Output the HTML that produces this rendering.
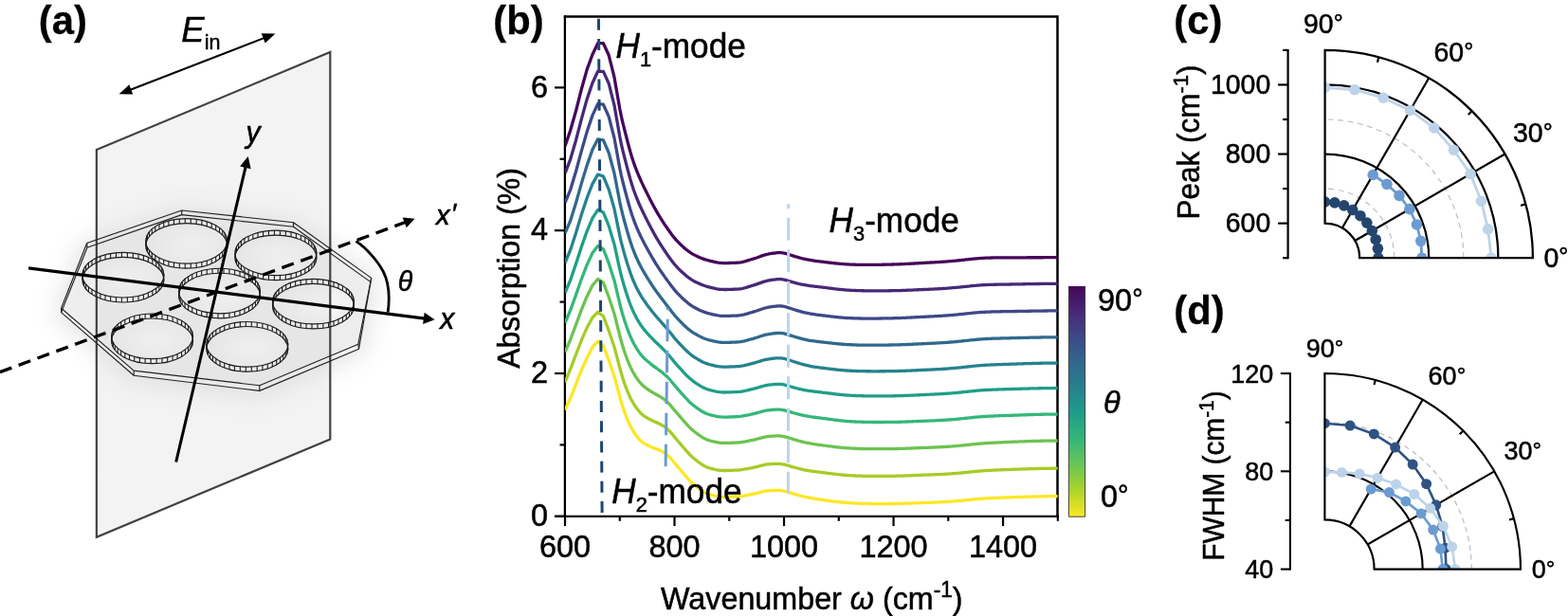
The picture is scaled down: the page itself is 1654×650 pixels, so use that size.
<!DOCTYPE html>
<html lang="en"><head><meta charset="utf-8"><title>Figure</title>
<style>html,body{margin:0;padding:0;background:#fff;}body{width:1654px;height:650px;overflow:hidden;}svg{display:block;font-family:'Liberation Sans', sans-serif;}text{stroke:#000;stroke-width:0.5px;paint-order:stroke;}</style>
</head><body>
<svg width="1654" height="650" viewBox="0 0 1654 650">
<defs>
<linearGradient id="vir" x1="0" y1="1" x2="0" y2="0">
<stop offset="0.0000" stop-color="#fde725"/>
<stop offset="0.1111" stop-color="#aed52a"/>
<stop offset="0.2222" stop-color="#6cc654"/>
<stop offset="0.3333" stop-color="#35b779"/>
<stop offset="0.4444" stop-color="#1f9e89"/>
<stop offset="0.5556" stop-color="#26828e"/>
<stop offset="0.6667" stop-color="#31688e"/>
<stop offset="0.7778" stop-color="#3e4989"/>
<stop offset="0.8889" stop-color="#482878"/>
<stop offset="1.0000" stop-color="#450659"/>
</linearGradient>
<clipPath id="clipb"><rect x="596.00" y="17.30" width="519.80" height="527.30"/></clipPath>
<filter id="blur1" x="-30%" y="-30%" width="160%" height="160%"><feGaussianBlur stdDeviation="13"/></filter>
<radialGradient id="ringg" cx="0.55" cy="0.55" r="0.5"><stop offset="0" stop-color="#fff" stop-opacity="0.65"/><stop offset="0.5" stop-color="#fff" stop-opacity="0.4"/><stop offset="1" stop-color="#fff" stop-opacity="0"/></radialGradient>
</defs>
<rect width="1654" height="650" fill="#fff"/>
<g id="panel-a">
<polygon points="191.70,226.60 309.50,239.30 391.00,297.60 378.50,368.20 273.80,412.40 141.20,396.30 64.60,329.60 92.00,261.20" fill="#8c8c8c" opacity="0.24" filter="url(#blur1)" stroke="#8c8c8c" stroke-width="13" stroke-linejoin="round"/>
<polygon points="191.70,226.60 309.50,239.30 391.00,297.60 378.50,368.20 273.80,412.40 141.20,396.30 64.60,329.60 92.00,261.20" fill="#f4f4f4" fill-opacity="0.8" stroke="none"/>
<polygon points="191.70,222.00 309.50,234.70 391.70,293.40 377.80,363.20 273.80,406.80 141.20,391.10 64.60,325.20 91.70,256.50" fill="#ececec" fill-opacity="0.8" stroke="none"/>
<ellipse cx="196.75" cy="256.85" rx="42.00" ry="24.80" fill="url(#ringg)"/>
<ellipse cx="290.90" cy="269.40" rx="42.00" ry="24.80" fill="url(#ringg)"/>
<ellipse cx="129.90" cy="292.70" rx="42.00" ry="24.80" fill="url(#ringg)"/>
<ellipse cx="231.50" cy="309.50" rx="42.00" ry="24.80" fill="url(#ringg)"/>
<ellipse cx="330.50" cy="320.60" rx="42.00" ry="24.80" fill="url(#ringg)"/>
<ellipse cx="160.60" cy="357.30" rx="42.00" ry="24.80" fill="url(#ringg)"/>
<ellipse cx="260.80" cy="365.80" rx="42.00" ry="24.80" fill="url(#ringg)"/>
<polygon points="101.85,158 348.3,55 348.3,463.4 101.85,566.8" fill="#d8d8d8" fill-opacity="0.3" stroke="none"/>
<polygon points="101.85,158 348.3,55 348.3,463.4 101.85,566.8" fill="none" stroke="#424242" stroke-width="2.2" stroke-linejoin="miter"/>
<g fill="none" stroke="#222" stroke-width="1.15" stroke-linejoin="round">
<polygon points="191.70,222.00 309.50,234.70 391.70,293.40 377.80,363.20 273.80,406.80 141.20,391.10 64.60,325.20 91.70,256.50"/>
<polygon points="191.70,226.60 309.50,239.30 391.00,297.60 378.50,368.20 273.80,412.40 141.20,396.30 64.60,329.60 92.00,261.20"/>
<line x1="191.70" y1="222.00" x2="191.70" y2="226.60"/>
<line x1="309.50" y1="234.70" x2="309.50" y2="239.30"/>
<line x1="391.70" y1="293.40" x2="391.00" y2="297.60"/>
<line x1="377.80" y1="363.20" x2="378.50" y2="368.20"/>
<line x1="273.80" y1="406.80" x2="273.80" y2="412.40"/>
<line x1="141.20" y1="391.10" x2="141.20" y2="396.30"/>
<line x1="64.60" y1="325.20" x2="64.60" y2="329.60"/>
<line x1="91.70" y1="256.50" x2="92.00" y2="261.20"/>
</g>
<g fill="none" stroke="#1c1c1c" stroke-width="1.15">
<ellipse cx="196.75" cy="256.85" rx="43.00" ry="23.80" stroke="#fff" stroke-opacity="0.2" stroke-width="5.00"/>
<ellipse cx="196.75" cy="254.35" rx="43.00" ry="23.80"/>
<ellipse cx="196.75" cy="259.35" rx="43.00" ry="23.80"/>
<path d="M239.65,256.01 V261.01 M238.81,259.30 V264.30 M237.16,262.49 V267.49 M234.72,265.52 V270.52 M231.54,268.34 V273.34 M227.68,270.88 V275.88 M223.22,273.10 V278.10 M218.25,274.96 V279.96 M212.86,276.42 V281.42 M207.15,277.44 V282.44 M201.24,278.02 V283.02 M195.25,278.14 V283.14 M189.28,277.79 V282.79 M183.46,276.99 V281.99 M177.90,275.74 V280.74 M172.70,274.08 V279.08 M167.98,272.04 V277.04 M163.81,269.65 V274.65 M160.28,266.96 V271.96 M157.47,264.03 V269.03 M155.42,260.91 V265.91 M154.17,257.66 V262.66 M153.75,254.35 V259.35 M154.17,251.04 V256.04 M155.42,247.79 V252.79 M157.47,244.67 V249.67 M160.28,241.74 V246.74 M163.81,239.05 V244.05 M167.98,236.66 V241.66 M172.70,234.62 V239.62 M177.90,232.96 V237.96 M183.46,231.71 V236.71 M189.28,230.91 V235.91 M195.25,230.56 V235.56 M201.24,230.68 V235.68 M207.15,231.26 V236.26 M212.86,232.28 V237.28 M218.25,233.74 V238.74 M223.22,235.60 V240.60 M227.68,237.82 V242.82 M231.54,240.36 V245.36 M234.72,243.18 V248.18 M237.16,246.21 V251.21 M238.81,249.40 V254.40 M239.65,252.69 V257.69" stroke-width="1.1"/>
<ellipse cx="290.90" cy="269.40" rx="43.00" ry="23.80" stroke="#fff" stroke-opacity="0.2" stroke-width="5.00"/>
<ellipse cx="290.90" cy="266.90" rx="43.00" ry="23.80"/>
<ellipse cx="290.90" cy="271.90" rx="43.00" ry="23.80"/>
<path d="M333.80,268.56 V273.56 M332.96,271.85 V276.85 M331.31,275.04 V280.04 M328.87,278.07 V283.07 M325.69,280.89 V285.89 M321.83,283.43 V288.43 M317.37,285.65 V290.65 M312.40,287.51 V292.51 M307.01,288.97 V293.97 M301.30,289.99 V294.99 M295.39,290.57 V295.57 M289.40,290.69 V295.69 M283.43,290.34 V295.34 M277.61,289.54 V294.54 M272.05,288.29 V293.29 M266.85,286.63 V291.63 M262.13,284.59 V289.59 M257.96,282.20 V287.20 M254.43,279.51 V284.51 M251.62,276.58 V281.58 M249.57,273.46 V278.46 M248.32,270.21 V275.21 M247.90,266.90 V271.90 M248.32,263.59 V268.59 M249.57,260.34 V265.34 M251.62,257.22 V262.22 M254.43,254.29 V259.29 M257.96,251.60 V256.60 M262.13,249.21 V254.21 M266.85,247.17 V252.17 M272.05,245.51 V250.51 M277.61,244.26 V249.26 M283.43,243.46 V248.46 M289.40,243.11 V248.11 M295.39,243.23 V248.23 M301.30,243.81 V248.81 M307.01,244.83 V249.83 M312.40,246.29 V251.29 M317.37,248.15 V253.15 M321.83,250.37 V255.37 M325.69,252.91 V257.91 M328.87,255.73 V260.73 M331.31,258.76 V263.76 M332.96,261.95 V266.95 M333.80,265.24 V270.24" stroke-width="1.1"/>
<ellipse cx="129.90" cy="292.70" rx="43.00" ry="23.80" stroke="#fff" stroke-opacity="0.2" stroke-width="5.00"/>
<ellipse cx="129.90" cy="290.20" rx="43.00" ry="23.80"/>
<ellipse cx="129.90" cy="295.20" rx="43.00" ry="23.80"/>
<path d="M172.80,291.86 V296.86 M171.96,295.15 V300.15 M170.31,298.34 V303.34 M167.87,301.37 V306.37 M164.69,304.19 V309.19 M160.83,306.73 V311.73 M156.37,308.95 V313.95 M151.40,310.81 V315.81 M146.01,312.27 V317.27 M140.30,313.29 V318.29 M134.39,313.87 V318.87 M128.40,313.99 V318.99 M122.43,313.64 V318.64 M116.61,312.84 V317.84 M111.05,311.59 V316.59 M105.85,309.93 V314.93 M101.13,307.89 V312.89 M96.96,305.50 V310.50 M93.43,302.81 V307.81 M90.62,299.88 V304.88 M88.57,296.76 V301.76 M87.32,293.51 V298.51 M86.90,290.20 V295.20 M87.32,286.89 V291.89 M88.57,283.64 V288.64 M90.62,280.52 V285.52 M93.43,277.59 V282.59 M96.96,274.90 V279.90 M101.13,272.51 V277.51 M105.85,270.47 V275.47 M111.05,268.81 V273.81 M116.61,267.56 V272.56 M122.43,266.76 V271.76 M128.40,266.41 V271.41 M134.39,266.53 V271.53 M140.30,267.11 V272.11 M146.01,268.13 V273.13 M151.40,269.59 V274.59 M156.37,271.45 V276.45 M160.83,273.67 V278.67 M164.69,276.21 V281.21 M167.87,279.03 V284.03 M170.31,282.06 V287.06 M171.96,285.25 V290.25 M172.80,288.54 V293.54" stroke-width="1.1"/>
<ellipse cx="231.50" cy="309.50" rx="43.00" ry="23.80" stroke="#fff" stroke-opacity="0.2" stroke-width="5.00"/>
<ellipse cx="231.50" cy="307.00" rx="43.00" ry="23.80"/>
<ellipse cx="231.50" cy="312.00" rx="43.00" ry="23.80"/>
<path d="M274.40,308.66 V313.66 M273.56,311.95 V316.95 M271.91,315.14 V320.14 M269.47,318.17 V323.17 M266.29,320.99 V325.99 M262.43,323.53 V328.53 M257.97,325.75 V330.75 M253.00,327.61 V332.61 M247.61,329.07 V334.07 M241.90,330.09 V335.09 M235.99,330.67 V335.67 M230.00,330.79 V335.79 M224.03,330.44 V335.44 M218.21,329.64 V334.64 M212.65,328.39 V333.39 M207.45,326.73 V331.73 M202.73,324.69 V329.69 M198.56,322.30 V327.30 M195.03,319.61 V324.61 M192.22,316.68 V321.68 M190.17,313.56 V318.56 M188.92,310.31 V315.31 M188.50,307.00 V312.00 M188.92,303.69 V308.69 M190.17,300.44 V305.44 M192.22,297.32 V302.32 M195.03,294.39 V299.39 M198.56,291.70 V296.70 M202.73,289.31 V294.31 M207.45,287.27 V292.27 M212.65,285.61 V290.61 M218.21,284.36 V289.36 M224.03,283.56 V288.56 M230.00,283.21 V288.21 M235.99,283.33 V288.33 M241.90,283.91 V288.91 M247.61,284.93 V289.93 M253.00,286.39 V291.39 M257.97,288.25 V293.25 M262.43,290.47 V295.47 M266.29,293.01 V298.01 M269.47,295.83 V300.83 M271.91,298.86 V303.86 M273.56,302.05 V307.05 M274.40,305.34 V310.34" stroke-width="1.1"/>
<ellipse cx="330.50" cy="320.60" rx="43.00" ry="23.80" stroke="#fff" stroke-opacity="0.2" stroke-width="5.00"/>
<ellipse cx="330.50" cy="318.10" rx="43.00" ry="23.80"/>
<ellipse cx="330.50" cy="323.10" rx="43.00" ry="23.80"/>
<path d="M373.40,319.76 V324.76 M372.56,323.05 V328.05 M370.91,326.24 V331.24 M368.47,329.27 V334.27 M365.29,332.09 V337.09 M361.43,334.63 V339.63 M356.97,336.85 V341.85 M352.00,338.71 V343.71 M346.61,340.17 V345.17 M340.90,341.19 V346.19 M334.99,341.77 V346.77 M329.00,341.89 V346.89 M323.03,341.54 V346.54 M317.21,340.74 V345.74 M311.65,339.49 V344.49 M306.45,337.83 V342.83 M301.73,335.79 V340.79 M297.56,333.40 V338.40 M294.03,330.71 V335.71 M291.22,327.78 V332.78 M289.17,324.66 V329.66 M287.92,321.41 V326.41 M287.50,318.10 V323.10 M287.92,314.79 V319.79 M289.17,311.54 V316.54 M291.22,308.42 V313.42 M294.03,305.49 V310.49 M297.56,302.80 V307.80 M301.73,300.41 V305.41 M306.45,298.37 V303.37 M311.65,296.71 V301.71 M317.21,295.46 V300.46 M323.03,294.66 V299.66 M329.00,294.31 V299.31 M334.99,294.43 V299.43 M340.90,295.01 V300.01 M346.61,296.03 V301.03 M352.00,297.49 V302.49 M356.97,299.35 V304.35 M361.43,301.57 V306.57 M365.29,304.11 V309.11 M368.47,306.93 V311.93 M370.91,309.96 V314.96 M372.56,313.15 V318.15 M373.40,316.44 V321.44" stroke-width="1.1"/>
<ellipse cx="160.60" cy="357.30" rx="43.00" ry="23.80" stroke="#fff" stroke-opacity="0.2" stroke-width="5.00"/>
<ellipse cx="160.60" cy="354.80" rx="43.00" ry="23.80"/>
<ellipse cx="160.60" cy="359.80" rx="43.00" ry="23.80"/>
<path d="M203.50,356.46 V361.46 M202.66,359.75 V364.75 M201.01,362.94 V367.94 M198.57,365.97 V370.97 M195.39,368.79 V373.79 M191.53,371.33 V376.33 M187.07,373.55 V378.55 M182.10,375.41 V380.41 M176.71,376.87 V381.87 M171.00,377.89 V382.89 M165.09,378.47 V383.47 M159.10,378.59 V383.59 M153.13,378.24 V383.24 M147.31,377.44 V382.44 M141.75,376.19 V381.19 M136.55,374.53 V379.53 M131.83,372.49 V377.49 M127.66,370.10 V375.10 M124.13,367.41 V372.41 M121.32,364.48 V369.48 M119.27,361.36 V366.36 M118.02,358.11 V363.11 M117.60,354.80 V359.80 M118.02,351.49 V356.49 M119.27,348.24 V353.24 M121.32,345.12 V350.12 M124.13,342.19 V347.19 M127.66,339.50 V344.50 M131.83,337.11 V342.11 M136.55,335.07 V340.07 M141.75,333.41 V338.41 M147.31,332.16 V337.16 M153.13,331.36 V336.36 M159.10,331.01 V336.01 M165.09,331.13 V336.13 M171.00,331.71 V336.71 M176.71,332.73 V337.73 M182.10,334.19 V339.19 M187.07,336.05 V341.05 M191.53,338.27 V343.27 M195.39,340.81 V345.81 M198.57,343.63 V348.63 M201.01,346.66 V351.66 M202.66,349.85 V354.85 M203.50,353.14 V358.14" stroke-width="1.1"/>
<ellipse cx="260.80" cy="365.80" rx="43.00" ry="23.80" stroke="#fff" stroke-opacity="0.2" stroke-width="5.00"/>
<ellipse cx="260.80" cy="363.30" rx="43.00" ry="23.80"/>
<ellipse cx="260.80" cy="368.30" rx="43.00" ry="23.80"/>
<path d="M303.70,364.96 V369.96 M302.86,368.25 V373.25 M301.21,371.44 V376.44 M298.77,374.47 V379.47 M295.59,377.29 V382.29 M291.73,379.83 V384.83 M287.27,382.05 V387.05 M282.30,383.91 V388.91 M276.91,385.37 V390.37 M271.20,386.39 V391.39 M265.29,386.97 V391.97 M259.30,387.09 V392.09 M253.33,386.74 V391.74 M247.51,385.94 V390.94 M241.95,384.69 V389.69 M236.75,383.03 V388.03 M232.03,380.99 V385.99 M227.86,378.60 V383.60 M224.33,375.91 V380.91 M221.52,372.98 V377.98 M219.47,369.86 V374.86 M218.22,366.61 V371.61 M217.80,363.30 V368.30 M218.22,359.99 V364.99 M219.47,356.74 V361.74 M221.52,353.62 V358.62 M224.33,350.69 V355.69 M227.86,348.00 V353.00 M232.03,345.61 V350.61 M236.75,343.57 V348.57 M241.95,341.91 V346.91 M247.51,340.66 V345.66 M253.33,339.86 V344.86 M259.30,339.51 V344.51 M265.29,339.63 V344.63 M271.20,340.21 V345.21 M276.91,341.23 V346.23 M282.30,342.69 V347.69 M287.27,344.55 V349.55 M291.73,346.77 V351.77 M295.59,349.31 V354.31 M298.77,352.13 V357.13 M301.21,355.16 V360.16 M302.86,358.35 V363.35 M303.70,361.64 V366.64" stroke-width="1.1"/>
</g>
<g fill="none">
<line x1="30.00" y1="282.81" x2="448.38" y2="336.03" stroke="#000" stroke-width="3.25" />
<polygon points="458.60,337.33 446.12,341.89 447.66,329.79" fill="#000" stroke="none"/>
<line x1="185.69" y1="487.50" x2="259.25" y2="175.41" stroke="#000" stroke-width="3.05" />
<polygon points="261.71,165.00 264.65,178.23 253.16,175.52" fill="#000" stroke="none"/>
<line x1="-4.00" y1="394.09" x2="428.12" y2="234.30" stroke="#000" stroke-width="3.35" stroke-dasharray="13.3 7.85" stroke-dashoffset="17.1"/>
<polygon points="437.50,230.83 428.73,240.26 424.70,229.38" fill="#000" stroke="none"/>
<path d="M375.4,254.6 C386,261 399,276 404.5,287 C409.5,297 411.5,312 409.2,329.6" stroke="#000" stroke-width="2.8"/>
<line x1="136.88" y1="94.93" x2="279.12" y2="39.87" stroke="#000" stroke-width="2.10" />
<polygon points="290.40,35.50 279.67,45.45 275.77,35.37" fill="#000" stroke="none"/>
<polygon points="125.60,99.30 136.33,89.35 140.23,99.43" fill="#000" stroke="none"/>
</g>
<text transform="translate(40.8,35.6) scale(1,1.025)" font-size="41.8" font-weight="bold" style="stroke-width:0.25px">(a)</text>
<text transform="translate(191.3,43.5) scale(1,1.025)" font-size="36.5"><tspan font-style="italic">E</tspan><tspan font-size="21.5" dy="8.2">in</tspan></text>
<text transform="translate(259.5,149.5) scale(1,1.025)" font-size="30" font-style="italic" style="stroke-width:0.6px">y</text>
<text transform="translate(460,236.9) scale(1,1.025)" font-size="29" font-style="italic" style="stroke-width:0.6px">x<tspan dx="1.3" dy="-2">′</tspan></text>
<text transform="translate(464.3,346.7) scale(1,1.025)" font-size="30" font-style="italic" style="stroke-width:0.6px">x</text>
<text transform="translate(419.8,307) scale(1,1.025)" font-size="28.5" font-style="italic" style="stroke-width:0.55px">θ</text>
</g>
<g id="panel-b">
<g stroke="#000" stroke-width="2.3" fill="none" stroke-linecap="butt">
<path d="M595.90,545.80 L595.90,16.30"/>
<path d="M594.80,17.55 L1115.50,17.55 L1115.50,545.80" stroke-width="2.5" stroke-linejoin="miter"/>
<path d="M585.00,544.80 L1116.70,544.80"/>
<line x1="596.00" y1="544.60" x2="596.00" y2="555.10" stroke-width="2.2"/>
<line x1="653.76" y1="544.60" x2="653.76" y2="549.80" stroke-width="2.2"/>
<line x1="711.51" y1="544.60" x2="711.51" y2="555.10" stroke-width="2.2"/>
<line x1="769.27" y1="544.60" x2="769.27" y2="549.80" stroke-width="2.2"/>
<line x1="827.02" y1="544.60" x2="827.02" y2="555.10" stroke-width="2.2"/>
<line x1="884.78" y1="544.60" x2="884.78" y2="549.80" stroke-width="2.2"/>
<line x1="942.53" y1="544.60" x2="942.53" y2="555.10" stroke-width="2.2"/>
<line x1="1000.29" y1="544.60" x2="1000.29" y2="549.80" stroke-width="2.2"/>
<line x1="1058.04" y1="544.60" x2="1058.04" y2="555.10" stroke-width="2.2"/>
<line x1="1115.80" y1="544.60" x2="1115.80" y2="549.80" stroke-width="2.2"/>
<line x1="585.00" y1="544.80" x2="596.00" y2="544.80" stroke-width="2.2"/>
<line x1="590.50" y1="469.40" x2="596.00" y2="469.40" stroke-width="2.2"/>
<line x1="585.00" y1="394.00" x2="596.00" y2="394.00" stroke-width="2.2"/>
<line x1="590.50" y1="318.60" x2="596.00" y2="318.60" stroke-width="2.2"/>
<line x1="585.00" y1="243.20" x2="596.00" y2="243.20" stroke-width="2.2"/>
<line x1="590.50" y1="167.80" x2="596.00" y2="167.80" stroke-width="2.2"/>
<line x1="585.00" y1="92.40" x2="596.00" y2="92.40" stroke-width="2.2"/>
</g>
<g fill="none" stroke-width="3.3" stroke-linejoin="round" stroke-linecap="butt" clip-path="url(#clipb)" transform="translate(0,0.3)">
<path d="M596.00,432.50 L601.78,419.75 L607.55,405.00 L613.33,390.37 L619.10,377.33 L624.88,366.08 L630.65,360.00 L636.43,364.50 L642.20,380.00 L647.98,396.66 L653.76,418.25 L655.20,423.39 L656.64,428.16 L658.09,432.59 L659.53,436.68 L660.98,440.44 L662.42,443.88 L663.86,447.03 L665.31,449.91 L666.75,452.53 L668.19,454.92 L669.64,457.12 L671.08,459.15 L672.53,461.04 L673.97,462.77 L675.41,464.33 L676.86,465.68 L678.30,466.82 L679.75,467.78 L681.19,468.62 L682.63,469.37 L684.08,470.09 L685.52,470.77 L686.97,471.41 L688.41,472.00 L689.85,472.54 L691.30,473.06 L692.74,473.58 L694.18,474.13 L695.63,474.74 L697.07,475.40 L698.52,476.15 L699.96,476.97 L701.40,477.90 L702.85,478.94 L704.29,480.13 L705.74,481.49 L707.18,483.02 L708.62,484.69 L710.07,486.44 L711.51,488.20 L712.95,489.93 L714.40,491.63 L715.84,493.31 L717.29,495.00 L718.73,496.70 L720.17,498.42 L721.62,500.13 L723.06,501.83 L724.51,503.51 L725.95,505.15 L727.39,506.71 L728.84,508.18 L730.28,509.54 L731.73,510.80 L733.17,512.01 L734.61,513.18 L736.06,514.34 L737.50,515.47 L738.94,516.55 L740.39,517.56 L741.83,518.49 L743.28,519.31 L744.72,520.04 L746.16,520.65 L747.61,521.17 L749.05,521.60 L750.50,521.98 L751.94,522.33 L753.38,522.68 L754.83,523.02 L756.27,523.32 L757.72,523.57 L759.16,523.75 L760.60,523.88 L762.05,523.96 L763.49,524.00 L764.93,524.01 L766.38,523.99 L767.82,523.95 L769.27,523.90 L770.71,523.85 L772.15,523.80 L773.60,523.74 L775.04,523.68 L776.49,523.62 L777.93,523.55 L779.37,523.46 L780.82,523.34 L782.26,523.17 L783.71,522.97 L785.15,522.75 L786.59,522.50 L788.04,522.23 L789.48,521.95 L790.92,521.67 L792.37,521.38 L793.81,521.10 L795.26,520.81 L796.70,520.50 L798.14,520.17 L799.59,519.80 L801.03,519.42 L802.48,519.04 L803.92,518.68 L805.36,518.36 L806.81,518.07 L808.25,517.83 L809.70,517.63 L811.14,517.47 L812.58,517.35 L814.03,517.25 L815.47,517.16 L816.91,517.08 L818.36,517.02 L819.80,516.99 L821.25,517.03 L822.69,517.13 L824.13,517.30 L825.58,517.54 L827.02,517.83 L828.47,518.18 L829.91,518.57 L831.35,518.99 L832.80,519.42 L834.24,519.86 L835.69,520.30 L837.13,520.74 L838.57,521.18 L840.02,521.60 L841.46,522.02 L842.90,522.43 L844.35,522.83 L845.79,523.21 L847.24,523.59 L848.68,523.94 L850.12,524.28 L851.57,524.59 L853.01,524.89 L854.46,525.17 L855.90,525.43 L857.34,525.68 L858.79,525.92 L860.23,526.14 L861.68,526.35 L863.12,526.56 L864.56,526.76 L866.01,526.96 L867.45,527.16 L868.89,527.36 L870.34,527.55 L871.78,527.75 L873.23,527.95 L874.67,528.14 L876.11,528.34 L877.56,528.53 L879.00,528.72 L880.45,528.90 L881.89,529.08 L883.33,529.25 L884.78,529.41 L886.22,529.57 L887.67,529.71 L889.11,529.85 L890.55,529.98 L892.00,530.10 L893.44,530.21 L894.88,530.32 L896.33,530.42 L897.77,530.51 L899.22,530.59 L900.66,530.67 L902.10,530.74 L903.55,530.81 L904.99,530.87 L906.44,530.93 L907.88,530.98 L909.32,531.03 L910.77,531.07 L912.21,531.11 L913.66,531.14 L915.10,531.17 L916.54,531.19 L917.99,531.21 L919.43,531.23 L920.88,531.24 L922.32,531.25 L923.76,531.26 L925.21,531.27 L926.65,531.27 L928.09,531.27 L929.54,531.27 L930.98,531.27 L932.43,531.27 L933.87,531.26 L935.31,531.26 L936.76,531.25 L938.20,531.24 L939.65,531.23 L941.09,531.22 L942.53,531.20 L943.98,531.18 L945.42,531.16 L946.87,531.14 L948.31,531.11 L949.75,531.07 L951.20,531.04 L952.64,531.00 L954.08,530.96 L955.53,530.91 L956.97,530.86 L958.42,530.81 L959.86,530.76 L961.30,530.70 L962.75,530.64 L964.19,530.59 L965.64,530.53 L967.08,530.48 L968.52,530.42 L969.97,530.37 L971.41,530.31 L972.86,530.26 L974.30,530.21 L975.74,530.15 L977.19,530.10 L978.63,530.05 L980.07,530.00 L981.52,529.95 L982.96,529.90 L984.41,529.84 L985.85,529.79 L987.29,529.73 L988.74,529.67 L990.18,529.61 L991.63,529.55 L993.07,529.48 L994.51,529.41 L995.96,529.34 L997.40,529.26 L998.84,529.17 L1000.29,529.08 L1001.73,528.99 L1003.18,528.89 L1004.62,528.78 L1006.06,528.67 L1007.51,528.55 L1008.95,528.43 L1010.40,528.30 L1011.84,528.17 L1013.28,528.03 L1014.73,527.89 L1016.17,527.75 L1017.62,527.60 L1019.06,527.45 L1020.50,527.30 L1021.95,527.16 L1023.39,527.01 L1024.84,526.86 L1026.28,526.71 L1027.72,526.57 L1029.17,526.43 L1030.61,526.30 L1032.05,526.18 L1033.50,526.06 L1034.94,525.94 L1036.39,525.84 L1037.83,525.74 L1039.27,525.65 L1040.72,525.56 L1042.16,525.49 L1043.61,525.41 L1045.05,525.34 L1046.49,525.28 L1047.94,525.21 L1049.38,525.15 L1050.82,525.09 L1052.27,525.03 L1053.71,524.97 L1055.16,524.91 L1056.60,524.86 L1058.04,524.80 L1059.49,524.74 L1060.93,524.68 L1062.38,524.63 L1063.82,524.57 L1065.26,524.52 L1066.71,524.47 L1068.15,524.42 L1069.60,524.37 L1071.04,524.32 L1072.48,524.27 L1073.93,524.22 L1075.37,524.17 L1076.82,524.13 L1078.26,524.08 L1079.70,524.03 L1081.15,523.99 L1082.59,523.94 L1084.03,523.90 L1085.48,523.86 L1086.92,523.82 L1088.37,523.77 L1089.81,523.73 L1091.25,523.70 L1092.70,523.66 L1094.14,523.62 L1095.59,523.59 L1097.03,523.56 L1098.47,523.53 L1099.92,523.50 L1101.36,523.47 L1102.80,523.45 L1104.25,523.42 L1105.69,523.40 L1107.14,523.39 L1108.58,523.37 L1110.02,523.35 L1111.47,523.34 L1112.91,523.32 L1114.36,523.31 L1115.80,523.30" stroke="#fde725"/>
<path d="M596.00,403.19 L601.78,388.80 L607.55,373.84 L613.33,358.82 L619.10,345.61 L624.88,334.95 L630.65,329.00 L636.43,333.29 L642.20,348.65 L647.98,365.61 L653.76,387.75 L655.20,392.99 L656.64,397.84 L658.09,402.34 L659.53,406.50 L660.98,410.35 L662.42,413.89 L663.86,417.15 L665.31,420.13 L666.75,422.85 L668.19,425.34 L669.64,427.62 L671.08,429.74 L672.53,431.71 L673.97,433.53 L675.41,435.17 L676.86,436.60 L678.30,437.83 L679.75,438.89 L681.19,439.82 L682.63,440.68 L684.08,441.50 L685.52,442.28 L686.97,443.02 L688.41,443.71 L689.85,444.36 L691.30,444.98 L692.74,445.59 L694.18,446.23 L695.63,446.92 L697.07,447.67 L698.52,448.48 L699.96,449.37 L701.40,450.36 L702.85,451.45 L704.29,452.68 L705.74,454.07 L707.18,455.63 L708.62,457.32 L710.07,459.07 L711.51,460.83 L712.95,462.55 L714.40,464.25 L715.84,465.92 L717.29,467.60 L718.73,469.29 L720.17,470.98 L721.62,472.68 L723.06,474.36 L724.51,476.01 L725.95,477.62 L727.39,479.17 L728.84,480.61 L730.28,481.95 L731.73,483.19 L733.17,484.37 L734.61,485.52 L736.06,486.66 L737.50,487.77 L738.94,488.83 L740.39,489.82 L741.83,490.73 L743.28,491.54 L744.72,492.25 L746.16,492.86 L747.61,493.36 L749.05,493.79 L750.50,494.17 L751.94,494.52 L753.38,494.87 L754.83,495.21 L756.27,495.51 L757.72,495.76 L759.16,495.94 L760.60,496.07 L762.05,496.15 L763.49,496.19 L764.93,496.19 L766.38,496.18 L767.82,496.14 L769.27,496.09 L770.71,496.04 L772.15,495.99 L773.60,495.93 L775.04,495.87 L776.49,495.81 L777.93,495.74 L779.37,495.65 L780.82,495.52 L782.26,495.35 L783.71,495.15 L785.15,494.92 L786.59,494.66 L788.04,494.39 L789.48,494.10 L790.92,493.81 L792.37,493.52 L793.81,493.22 L795.26,492.93 L796.70,492.61 L798.14,492.27 L799.59,491.90 L801.03,491.51 L802.48,491.12 L803.92,490.76 L805.36,490.42 L806.81,490.13 L808.25,489.88 L809.70,489.68 L811.14,489.51 L812.58,489.38 L814.03,489.28 L815.47,489.18 L816.91,489.10 L818.36,489.03 L819.80,489.00 L821.25,489.03 L822.69,489.12 L824.13,489.29 L825.58,489.52 L827.02,489.81 L828.47,490.16 L829.91,490.55 L831.35,490.97 L832.80,491.40 L834.24,491.83 L835.69,492.25 L837.13,492.67 L838.57,493.07 L840.02,493.47 L841.46,493.85 L842.90,494.22 L844.35,494.58 L845.79,494.92 L847.24,495.25 L848.68,495.55 L850.12,495.84 L851.57,496.11 L853.01,496.36 L854.46,496.60 L855.90,496.82 L857.34,497.02 L858.79,497.21 L860.23,497.40 L861.68,497.58 L863.12,497.75 L864.56,497.93 L866.01,498.10 L867.45,498.28 L868.89,498.45 L870.34,498.64 L871.78,498.82 L873.23,499.00 L874.67,499.19 L876.11,499.37 L877.56,499.56 L879.00,499.74 L880.45,499.92 L881.89,500.09 L883.33,500.26 L884.78,500.42 L886.22,500.57 L887.67,500.71 L889.11,500.85 L890.55,500.97 L892.00,501.09 L893.44,501.20 L894.88,501.30 L896.33,501.39 L897.77,501.48 L899.22,501.56 L900.66,501.63 L902.10,501.70 L903.55,501.76 L904.99,501.82 L906.44,501.87 L907.88,501.92 L909.32,501.96 L910.77,502.00 L912.21,502.03 L913.66,502.06 L915.10,502.08 L916.54,502.10 L917.99,502.12 L919.43,502.13 L920.88,502.14 L922.32,502.15 L923.76,502.15 L925.21,502.15 L926.65,502.15 L928.09,502.15 L929.54,502.14 L930.98,502.13 L932.43,502.12 L933.87,502.11 L935.31,502.10 L936.76,502.08 L938.20,502.07 L939.65,502.05 L941.09,502.03 L942.53,502.01 L943.98,501.98 L945.42,501.95 L946.87,501.92 L948.31,501.88 L949.75,501.85 L951.20,501.80 L952.64,501.76 L954.08,501.71 L955.53,501.66 L956.97,501.61 L958.42,501.56 L959.86,501.50 L961.30,501.44 L962.75,501.38 L964.19,501.32 L965.64,501.26 L967.08,501.20 L968.52,501.15 L969.97,501.09 L971.41,501.03 L972.86,500.97 L974.30,500.92 L975.74,500.86 L977.19,500.80 L978.63,500.75 L980.07,500.69 L981.52,500.64 L982.96,500.58 L984.41,500.53 L985.85,500.47 L987.29,500.41 L988.74,500.35 L990.18,500.29 L991.63,500.23 L993.07,500.16 L994.51,500.09 L995.96,500.02 L997.40,499.94 L998.84,499.86 L1000.29,499.77 L1001.73,499.67 L1003.18,499.57 L1004.62,499.47 L1006.06,499.36 L1007.51,499.24 L1008.95,499.12 L1010.40,498.99 L1011.84,498.86 L1013.28,498.72 L1014.73,498.58 L1016.17,498.44 L1017.62,498.29 L1019.06,498.14 L1020.50,497.99 L1021.95,497.84 L1023.39,497.69 L1024.84,497.54 L1026.28,497.39 L1027.72,497.25 L1029.17,497.11 L1030.61,496.97 L1032.05,496.84 L1033.50,496.72 L1034.94,496.60 L1036.39,496.50 L1037.83,496.39 L1039.27,496.30 L1040.72,496.21 L1042.16,496.13 L1043.61,496.06 L1045.05,495.99 L1046.49,495.92 L1047.94,495.85 L1049.38,495.78 L1050.82,495.72 L1052.27,495.66 L1053.71,495.60 L1055.16,495.53 L1056.60,495.47 L1058.04,495.41 L1059.49,495.35 L1060.93,495.29 L1062.38,495.24 L1063.82,495.18 L1065.26,495.13 L1066.71,495.07 L1068.15,495.02 L1069.60,494.97 L1071.04,494.92 L1072.48,494.87 L1073.93,494.82 L1075.37,494.77 L1076.82,494.72 L1078.26,494.67 L1079.70,494.63 L1081.15,494.58 L1082.59,494.54 L1084.03,494.50 L1085.48,494.45 L1086.92,494.41 L1088.37,494.37 L1089.81,494.33 L1091.25,494.29 L1092.70,494.26 L1094.14,494.22 L1095.59,494.19 L1097.03,494.15 L1098.47,494.12 L1099.92,494.10 L1101.36,494.07 L1102.80,494.05 L1104.25,494.02 L1105.69,494.00 L1107.14,493.98 L1108.58,493.97 L1110.02,493.95 L1111.47,493.94 L1112.91,493.92 L1114.36,493.91 L1115.80,493.90" stroke="#a6cc27"/>
<path d="M596.00,371.43 L601.78,357.73 L607.55,342.29 L613.33,326.60 L619.10,312.61 L624.88,300.93 L630.65,294.17 L636.43,298.07 L642.20,313.19 L647.98,330.70 L653.76,353.83 L655.20,359.24 L656.64,364.23 L658.09,368.86 L659.53,373.15 L660.98,377.16 L662.42,380.89 L663.86,384.34 L665.31,387.51 L666.75,390.42 L668.19,393.07 L669.64,395.52 L671.08,397.79 L672.53,399.91 L673.97,401.88 L675.41,403.66 L676.86,405.25 L678.30,406.65 L679.75,407.88 L681.19,408.99 L682.63,410.03 L684.08,411.03 L685.52,411.99 L686.97,412.92 L688.41,413.79 L689.85,414.62 L691.30,415.41 L692.74,416.20 L694.18,417.01 L695.63,417.85 L697.07,418.74 L698.52,419.69 L699.96,420.70 L701.40,421.79 L702.85,422.98 L704.29,424.29 L705.74,425.74 L707.18,427.33 L708.62,429.04 L710.07,430.80 L711.51,432.56 L712.95,434.28 L714.40,435.97 L715.84,437.63 L717.29,439.29 L718.73,440.95 L720.17,442.61 L721.62,444.27 L723.06,445.91 L724.51,447.52 L725.95,449.09 L727.39,450.59 L728.84,451.99 L730.28,453.28 L731.73,454.49 L733.17,455.63 L734.61,456.74 L736.06,457.84 L737.50,458.91 L738.94,459.93 L740.39,460.89 L741.83,461.76 L743.28,462.54 L744.72,463.23 L746.16,463.82 L747.61,464.32 L749.05,464.74 L750.50,465.12 L751.94,465.47 L753.38,465.82 L754.83,466.15 L756.27,466.45 L757.72,466.69 L759.16,466.88 L760.60,467.01 L762.05,467.09 L763.49,467.13 L764.93,467.13 L766.38,467.12 L767.82,467.08 L769.27,467.03 L770.71,466.98 L772.15,466.93 L773.60,466.87 L775.04,466.81 L776.49,466.75 L777.93,466.68 L779.37,466.59 L780.82,466.46 L782.26,466.28 L783.71,466.07 L785.15,465.83 L786.59,465.56 L788.04,465.27 L789.48,464.97 L790.92,464.66 L792.37,464.35 L793.81,464.05 L795.26,463.74 L796.70,463.41 L798.14,463.06 L799.59,462.68 L801.03,462.27 L802.48,461.87 L803.92,461.49 L805.36,461.15 L806.81,460.84 L808.25,460.58 L809.70,460.36 L811.14,460.19 L812.58,460.05 L814.03,459.93 L815.47,459.82 L816.91,459.73 L818.36,459.65 L819.80,459.61 L821.25,459.63 L822.69,459.71 L824.13,459.87 L825.58,460.09 L827.02,460.38 L828.47,460.73 L829.91,461.12 L831.35,461.55 L832.80,461.98 L834.24,462.43 L835.69,462.87 L837.13,463.30 L838.57,463.73 L840.02,464.15 L841.46,464.57 L842.90,464.97 L844.35,465.36 L845.79,465.73 L847.24,466.10 L848.68,466.44 L850.12,466.76 L851.57,467.07 L853.01,467.36 L854.46,467.63 L855.90,467.88 L857.34,468.11 L858.79,468.34 L860.23,468.55 L861.68,468.76 L863.12,468.96 L864.56,469.15 L866.01,469.34 L867.45,469.53 L868.89,469.72 L870.34,469.91 L871.78,470.10 L873.23,470.29 L874.67,470.48 L876.11,470.67 L877.56,470.86 L879.00,471.04 L880.45,471.22 L881.89,471.39 L883.33,471.55 L884.78,471.71 L886.22,471.86 L887.67,472.00 L889.11,472.13 L890.55,472.26 L892.00,472.37 L893.44,472.48 L894.88,472.57 L896.33,472.67 L897.77,472.75 L899.22,472.83 L900.66,472.90 L902.10,472.96 L903.55,473.02 L904.99,473.08 L906.44,473.13 L907.88,473.18 L909.32,473.22 L910.77,473.25 L912.21,473.29 L913.66,473.31 L915.10,473.34 L916.54,473.36 L917.99,473.37 L919.43,473.39 L920.88,473.40 L922.32,473.40 L923.76,473.41 L925.21,473.41 L926.65,473.41 L928.09,473.40 L929.54,473.40 L930.98,473.39 L932.43,473.38 L933.87,473.37 L935.31,473.36 L936.76,473.35 L938.20,473.33 L939.65,473.31 L941.09,473.29 L942.53,473.27 L943.98,473.25 L945.42,473.22 L946.87,473.19 L948.31,473.15 L949.75,473.12 L951.20,473.08 L952.64,473.03 L954.08,472.98 L955.53,472.93 L956.97,472.88 L958.42,472.83 L959.86,472.77 L961.30,472.71 L962.75,472.65 L964.19,472.59 L965.64,472.53 L967.08,472.47 L968.52,472.40 L969.97,472.34 L971.41,472.28 L972.86,472.22 L974.30,472.16 L975.74,472.11 L977.19,472.05 L978.63,471.99 L980.07,471.93 L981.52,471.87 L982.96,471.81 L984.41,471.76 L985.85,471.70 L987.29,471.63 L988.74,471.57 L990.18,471.51 L991.63,471.44 L993.07,471.37 L994.51,471.30 L995.96,471.22 L997.40,471.14 L998.84,471.05 L1000.29,470.96 L1001.73,470.86 L1003.18,470.76 L1004.62,470.65 L1006.06,470.53 L1007.51,470.41 L1008.95,470.29 L1010.40,470.16 L1011.84,470.02 L1013.28,469.88 L1014.73,469.74 L1016.17,469.59 L1017.62,469.44 L1019.06,469.29 L1020.50,469.13 L1021.95,468.98 L1023.39,468.82 L1024.84,468.67 L1026.28,468.52 L1027.72,468.37 L1029.17,468.23 L1030.61,468.09 L1032.05,467.95 L1033.50,467.83 L1034.94,467.71 L1036.39,467.60 L1037.83,467.49 L1039.27,467.40 L1040.72,467.30 L1042.16,467.22 L1043.61,467.14 L1045.05,467.06 L1046.49,466.98 L1047.94,466.91 L1049.38,466.84 L1050.82,466.76 L1052.27,466.69 L1053.71,466.62 L1055.16,466.55 L1056.60,466.48 L1058.04,466.41 L1059.49,466.34 L1060.93,466.27 L1062.38,466.21 L1063.82,466.14 L1065.26,466.08 L1066.71,466.02 L1068.15,465.96 L1069.60,465.90 L1071.04,465.84 L1072.48,465.78 L1073.93,465.73 L1075.37,465.67 L1076.82,465.62 L1078.26,465.57 L1079.70,465.52 L1081.15,465.46 L1082.59,465.41 L1084.03,465.37 L1085.48,465.32 L1086.92,465.27 L1088.37,465.22 L1089.81,465.18 L1091.25,465.14 L1092.70,465.10 L1094.14,465.06 L1095.59,465.02 L1097.03,464.98 L1098.47,464.95 L1099.92,464.92 L1101.36,464.89 L1102.80,464.86 L1104.25,464.84 L1105.69,464.81 L1107.14,464.79 L1108.58,464.77 L1110.02,464.76 L1111.47,464.74 L1112.91,464.73 L1114.36,464.71 L1115.80,464.70" stroke="#6cc350"/>
<path d="M596.00,340.52 L601.78,326.84 L607.55,310.81 L613.33,294.23 L619.10,279.32 L624.88,266.79 L630.65,259.21 L636.43,262.61 L642.20,277.40 L647.98,295.64 L653.76,320.08 L655.20,325.72 L656.64,330.89 L658.09,335.68 L659.53,340.16 L660.98,344.38 L662.42,348.35 L663.86,352.05 L665.31,355.48 L666.75,358.62 L668.19,361.50 L669.64,364.16 L671.08,366.64 L672.53,368.95 L673.97,371.11 L675.41,373.09 L676.86,374.88 L678.30,376.49 L679.75,377.95 L681.19,379.30 L682.63,380.58 L684.08,381.82 L685.52,383.03 L686.97,384.19 L688.41,385.31 L689.85,386.37 L691.30,387.40 L692.74,388.42 L694.18,389.44 L695.63,390.49 L697.07,391.56 L698.52,392.68 L699.96,393.85 L701.40,395.09 L702.85,396.40 L704.29,397.81 L705.74,399.33 L707.18,400.98 L708.62,402.72 L710.07,404.50 L711.51,406.26 L712.95,407.98 L714.40,409.65 L715.84,411.29 L717.29,412.92 L718.73,414.55 L720.17,416.17 L721.62,417.77 L723.06,419.36 L724.51,420.92 L725.95,422.43 L727.39,423.87 L728.84,425.21 L730.28,426.46 L731.73,427.61 L733.17,428.70 L734.61,429.76 L736.06,430.81 L737.50,431.82 L738.94,432.79 L740.39,433.70 L741.83,434.53 L743.28,435.27 L744.72,435.93 L746.16,436.50 L747.61,436.98 L749.05,437.40 L750.50,437.77 L751.94,438.12 L753.38,438.47 L754.83,438.80 L756.27,439.09 L757.72,439.34 L759.16,439.53 L760.60,439.66 L762.05,439.74 L763.49,439.78 L764.93,439.78 L766.38,439.76 L767.82,439.73 L769.27,439.68 L770.71,439.63 L772.15,439.57 L773.60,439.52 L775.04,439.46 L776.49,439.40 L777.93,439.33 L779.37,439.23 L780.82,439.10 L782.26,438.92 L783.71,438.69 L785.15,438.43 L786.59,438.14 L788.04,437.84 L789.48,437.52 L790.92,437.19 L792.37,436.87 L793.81,436.55 L795.26,436.22 L796.70,435.88 L798.14,435.51 L799.59,435.11 L801.03,434.69 L802.48,434.27 L803.92,433.87 L805.36,433.51 L806.81,433.19 L808.25,432.91 L809.70,432.68 L811.14,432.49 L812.58,432.33 L814.03,432.20 L815.47,432.08 L816.91,431.97 L818.36,431.88 L819.80,431.82 L821.25,431.83 L822.69,431.90 L824.13,432.04 L825.58,432.26 L827.02,432.54 L828.47,432.89 L829.91,433.28 L831.35,433.71 L832.80,434.14 L834.24,434.58 L835.69,435.01 L837.13,435.42 L838.57,435.83 L840.02,436.23 L841.46,436.61 L842.90,436.98 L844.35,437.33 L845.79,437.67 L847.24,437.99 L848.68,438.30 L850.12,438.58 L851.57,438.85 L853.01,439.10 L854.46,439.33 L855.90,439.54 L857.34,439.75 L858.79,439.94 L860.23,440.13 L861.68,440.31 L863.12,440.49 L864.56,440.67 L866.01,440.85 L867.45,441.03 L868.89,441.22 L870.34,441.41 L871.78,441.60 L873.23,441.80 L874.67,441.99 L876.11,442.19 L877.56,442.39 L879.00,442.58 L880.45,442.77 L881.89,442.96 L883.33,443.14 L884.78,443.31 L886.22,443.47 L887.67,443.63 L889.11,443.77 L890.55,443.91 L892.00,444.03 L893.44,444.15 L894.88,444.26 L896.33,444.35 L897.77,444.45 L899.22,444.53 L900.66,444.61 L902.10,444.68 L903.55,444.75 L904.99,444.81 L906.44,444.87 L907.88,444.92 L909.32,444.96 L910.77,445.00 L912.21,445.04 L913.66,445.07 L915.10,445.10 L916.54,445.12 L917.99,445.14 L919.43,445.16 L920.88,445.17 L922.32,445.18 L923.76,445.18 L925.21,445.18 L926.65,445.19 L928.09,445.18 L929.54,445.18 L930.98,445.18 L932.43,445.17 L933.87,445.16 L935.31,445.15 L936.76,445.14 L938.20,445.13 L939.65,445.11 L941.09,445.10 L942.53,445.08 L943.98,445.06 L945.42,445.03 L946.87,445.00 L948.31,444.97 L949.75,444.93 L951.20,444.89 L952.64,444.85 L954.08,444.80 L955.53,444.75 L956.97,444.70 L958.42,444.65 L959.86,444.59 L961.30,444.53 L962.75,444.47 L964.19,444.41 L965.64,444.35 L967.08,444.28 L968.52,444.22 L969.97,444.16 L971.41,444.10 L972.86,444.04 L974.30,443.98 L975.74,443.92 L977.19,443.86 L978.63,443.80 L980.07,443.74 L981.52,443.67 L982.96,443.61 L984.41,443.55 L985.85,443.49 L987.29,443.42 L988.74,443.35 L990.18,443.28 L991.63,443.21 L993.07,443.13 L994.51,443.05 L995.96,442.97 L997.40,442.88 L998.84,442.78 L1000.29,442.68 L1001.73,442.58 L1003.18,442.47 L1004.62,442.35 L1006.06,442.23 L1007.51,442.10 L1008.95,441.97 L1010.40,441.84 L1011.84,441.70 L1013.28,441.55 L1014.73,441.41 L1016.17,441.26 L1017.62,441.10 L1019.06,440.95 L1020.50,440.80 L1021.95,440.64 L1023.39,440.49 L1024.84,440.34 L1026.28,440.19 L1027.72,440.04 L1029.17,439.90 L1030.61,439.77 L1032.05,439.64 L1033.50,439.52 L1034.94,439.40 L1036.39,439.30 L1037.83,439.20 L1039.27,439.11 L1040.72,439.03 L1042.16,438.95 L1043.61,438.88 L1045.05,438.81 L1046.49,438.75 L1047.94,438.69 L1049.38,438.63 L1050.82,438.57 L1052.27,438.52 L1053.71,438.46 L1055.16,438.41 L1056.60,438.35 L1058.04,438.30 L1059.49,438.25 L1060.93,438.19 L1062.38,438.14 L1063.82,438.09 L1065.26,438.03 L1066.71,437.98 L1068.15,437.93 L1069.60,437.88 L1071.04,437.83 L1072.48,437.78 L1073.93,437.73 L1075.37,437.68 L1076.82,437.63 L1078.26,437.58 L1079.70,437.53 L1081.15,437.48 L1082.59,437.43 L1084.03,437.38 L1085.48,437.33 L1086.92,437.29 L1088.37,437.24 L1089.81,437.20 L1091.25,437.15 L1092.70,437.11 L1094.14,437.07 L1095.59,437.03 L1097.03,437.00 L1098.47,436.96 L1099.92,436.93 L1101.36,436.90 L1102.80,436.87 L1104.25,436.84 L1105.69,436.82 L1107.14,436.80 L1108.58,436.78 L1110.02,436.76 L1111.47,436.74 L1112.91,436.73 L1114.36,436.71 L1115.80,436.70" stroke="#35b779"/>
<path d="M596.00,308.82 L601.78,295.03 L607.55,278.07 L613.33,260.11 L619.10,243.78 L624.88,229.99 L630.65,221.16 L636.43,223.77 L642.20,238.05 L647.98,257.44 L653.76,283.93 L655.20,289.92 L656.64,295.38 L658.09,300.43 L659.53,305.19 L660.98,309.75 L662.42,314.09 L663.86,318.20 L665.31,322.02 L666.75,325.54 L668.19,328.78 L669.64,331.77 L671.08,334.57 L672.53,337.19 L673.97,339.64 L675.41,341.93 L676.86,344.04 L678.30,346.00 L679.75,347.81 L681.19,349.53 L682.63,351.19 L684.08,352.81 L685.52,354.39 L686.97,355.93 L688.41,357.43 L689.85,358.87 L691.30,360.27 L692.74,361.65 L694.18,363.01 L695.63,364.37 L697.07,365.74 L698.52,367.14 L699.96,368.55 L701.40,370.01 L702.85,371.51 L704.29,373.08 L705.74,374.73 L707.18,376.46 L708.62,378.25 L710.07,380.05 L711.51,381.81 L712.95,383.52 L714.40,385.17 L715.84,386.78 L717.29,388.37 L718.73,389.94 L720.17,391.49 L721.62,393.03 L723.06,394.53 L724.51,396.00 L725.95,397.42 L727.39,398.77 L728.84,400.02 L730.28,401.18 L731.73,402.26 L733.17,403.27 L734.61,404.25 L736.06,405.21 L737.50,406.14 L738.94,407.03 L740.39,407.86 L741.83,408.62 L743.28,409.30 L744.72,409.92 L746.16,410.45 L747.61,410.91 L749.05,411.32 L750.50,411.68 L751.94,412.03 L753.38,412.38 L754.83,412.70 L756.27,413.00 L757.72,413.25 L759.16,413.43 L760.60,413.56 L762.05,413.64 L763.49,413.68 L764.93,413.69 L766.38,413.67 L767.82,413.63 L769.27,413.59 L770.71,413.53 L772.15,413.48 L773.60,413.42 L775.04,413.37 L776.49,413.31 L777.93,413.24 L779.37,413.14 L780.82,412.99 L782.26,412.80 L783.71,412.55 L785.15,412.27 L786.59,411.96 L788.04,411.62 L789.48,411.27 L790.92,410.92 L792.37,410.56 L793.81,410.21 L795.26,409.86 L796.70,409.49 L798.14,409.10 L799.59,408.67 L801.03,408.22 L802.48,407.78 L803.92,407.35 L805.36,406.97 L806.81,406.62 L808.25,406.32 L809.70,406.06 L811.14,405.84 L812.58,405.66 L814.03,405.51 L815.47,405.36 L816.91,405.23 L818.36,405.12 L819.80,405.05 L821.25,405.03 L822.69,405.08 L824.13,405.20 L825.58,405.40 L827.02,405.67 L828.47,406.02 L829.91,406.41 L831.35,406.84 L832.80,407.29 L834.24,407.72 L835.69,408.14 L837.13,408.55 L838.57,408.95 L840.02,409.33 L841.46,409.69 L842.90,410.04 L844.35,410.38 L845.79,410.69 L847.24,410.99 L848.68,411.28 L850.12,411.54 L851.57,411.78 L853.01,412.01 L854.46,412.22 L855.90,412.42 L857.34,412.61 L858.79,412.78 L860.23,412.95 L861.68,413.12 L863.12,413.29 L864.56,413.46 L866.01,413.63 L867.45,413.80 L868.89,413.98 L870.34,414.16 L871.78,414.34 L873.23,414.52 L874.67,414.71 L876.11,414.90 L877.56,415.08 L879.00,415.27 L880.45,415.44 L881.89,415.62 L883.33,415.78 L884.78,415.94 L886.22,416.09 L887.67,416.24 L889.11,416.37 L890.55,416.49 L892.00,416.61 L893.44,416.71 L894.88,416.81 L896.33,416.90 L897.77,416.98 L899.22,417.06 L900.66,417.13 L902.10,417.19 L903.55,417.25 L904.99,417.30 L906.44,417.35 L907.88,417.39 L909.32,417.43 L910.77,417.47 L912.21,417.50 L913.66,417.52 L915.10,417.55 L916.54,417.56 L917.99,417.58 L919.43,417.59 L920.88,417.60 L922.32,417.60 L923.76,417.61 L925.21,417.61 L926.65,417.61 L928.09,417.60 L929.54,417.59 L930.98,417.59 L932.43,417.58 L933.87,417.57 L935.31,417.55 L936.76,417.54 L938.20,417.52 L939.65,417.50 L941.09,417.48 L942.53,417.46 L943.98,417.43 L945.42,417.40 L946.87,417.37 L948.31,417.33 L949.75,417.30 L951.20,417.25 L952.64,417.20 L954.08,417.15 L955.53,417.10 L956.97,417.04 L958.42,416.98 L959.86,416.92 L961.30,416.86 L962.75,416.79 L964.19,416.73 L965.64,416.66 L967.08,416.59 L968.52,416.53 L969.97,416.46 L971.41,416.39 L972.86,416.32 L974.30,416.26 L975.74,416.19 L977.19,416.12 L978.63,416.06 L980.07,415.99 L981.52,415.92 L982.96,415.85 L984.41,415.78 L985.85,415.71 L987.29,415.64 L988.74,415.57 L990.18,415.49 L991.63,415.41 L993.07,415.33 L994.51,415.25 L995.96,415.16 L997.40,415.06 L998.84,414.96 L1000.29,414.86 L1001.73,414.75 L1003.18,414.64 L1004.62,414.52 L1006.06,414.40 L1007.51,414.27 L1008.95,414.13 L1010.40,413.99 L1011.84,413.85 L1013.28,413.71 L1014.73,413.56 L1016.17,413.41 L1017.62,413.26 L1019.06,413.10 L1020.50,412.95 L1021.95,412.79 L1023.39,412.64 L1024.84,412.49 L1026.28,412.34 L1027.72,412.19 L1029.17,412.05 L1030.61,411.92 L1032.05,411.79 L1033.50,411.67 L1034.94,411.56 L1036.39,411.45 L1037.83,411.35 L1039.27,411.27 L1040.72,411.18 L1042.16,411.11 L1043.61,411.04 L1045.05,410.98 L1046.49,410.92 L1047.94,410.86 L1049.38,410.81 L1050.82,410.76 L1052.27,410.71 L1053.71,410.66 L1055.16,410.61 L1056.60,410.56 L1058.04,410.52 L1059.49,410.47 L1060.93,410.42 L1062.38,410.38 L1063.82,410.33 L1065.26,410.29 L1066.71,410.25 L1068.15,410.20 L1069.60,410.16 L1071.04,410.12 L1072.48,410.07 L1073.93,410.03 L1075.37,409.99 L1076.82,409.95 L1078.26,409.91 L1079.70,409.87 L1081.15,409.83 L1082.59,409.79 L1084.03,409.75 L1085.48,409.71 L1086.92,409.67 L1088.37,409.63 L1089.81,409.60 L1091.25,409.56 L1092.70,409.53 L1094.14,409.50 L1095.59,409.47 L1097.03,409.44 L1098.47,409.41 L1099.92,409.38 L1101.36,409.36 L1102.80,409.34 L1104.25,409.32 L1105.69,409.30 L1107.14,409.28 L1108.58,409.26 L1110.02,409.25 L1111.47,409.23 L1112.91,409.22 L1114.36,409.21 L1115.80,409.20" stroke="#1f9e89"/>
<path d="M596.00,277.04 L601.78,263.20 L607.55,245.46 L613.33,226.30 L619.10,208.72 L624.88,193.77 L630.65,183.82 L636.43,185.74 L642.20,199.57 L647.98,219.95 L653.76,248.25 L655.20,254.55 L656.64,260.26 L658.09,265.54 L659.53,270.54 L660.98,275.39 L662.42,280.07 L663.86,284.52 L665.31,288.69 L666.75,292.54 L668.19,296.09 L669.64,299.38 L671.08,302.45 L672.53,305.34 L673.97,308.06 L675.41,310.61 L676.86,313.01 L678.30,315.26 L679.75,317.39 L681.19,319.44 L682.63,321.42 L684.08,323.37 L685.52,325.29 L686.97,327.16 L688.41,328.99 L689.85,330.76 L691.30,332.48 L692.74,334.17 L694.18,335.83 L695.63,337.47 L697.07,339.10 L698.52,340.73 L699.96,342.37 L701.40,344.02 L702.85,345.69 L704.29,347.40 L705.74,349.15 L707.18,350.96 L708.62,352.79 L710.07,354.60 L711.51,356.37 L712.95,358.07 L714.40,359.71 L715.84,361.29 L717.29,362.83 L718.73,364.36 L720.17,365.86 L721.62,367.32 L723.06,368.76 L724.51,370.15 L725.95,371.49 L727.39,372.75 L728.84,373.93 L730.28,375.02 L731.73,376.02 L733.17,376.97 L734.61,377.88 L736.06,378.76 L737.50,379.62 L738.94,380.44 L740.39,381.20 L741.83,381.90 L743.28,382.54 L744.72,383.11 L746.16,383.61 L747.61,384.05 L749.05,384.45 L750.50,384.81 L751.94,385.15 L753.38,385.50 L754.83,385.82 L756.27,386.11 L757.72,386.36 L759.16,386.55 L760.60,386.67 L762.05,386.75 L763.49,386.80 L764.93,386.80 L766.38,386.79 L767.82,386.75 L769.27,386.70 L770.71,386.65 L772.15,386.59 L773.60,386.54 L775.04,386.48 L776.49,386.42 L777.93,386.35 L779.37,386.25 L780.82,386.10 L782.26,385.89 L783.71,385.63 L785.15,385.33 L786.59,384.99 L788.04,384.63 L789.48,384.26 L790.92,383.88 L792.37,383.50 L793.81,383.12 L795.26,382.75 L796.70,382.36 L798.14,381.94 L799.59,381.49 L801.03,381.02 L802.48,380.55 L803.92,380.10 L805.36,379.69 L806.81,379.32 L808.25,379.00 L809.70,378.72 L811.14,378.48 L812.58,378.28 L814.03,378.10 L815.47,377.94 L816.91,377.79 L818.36,377.66 L819.80,377.57 L821.25,377.53 L822.69,377.56 L824.13,377.67 L825.58,377.85 L827.02,378.12 L828.47,378.46 L829.91,378.86 L831.35,379.30 L832.80,379.77 L834.24,380.24 L835.69,380.72 L837.13,381.19 L838.57,381.66 L840.02,382.12 L841.46,382.58 L842.90,383.02 L844.35,383.46 L845.79,383.87 L847.24,384.28 L848.68,384.66 L850.12,385.02 L851.57,385.36 L853.01,385.68 L854.46,385.97 L855.90,386.25 L857.34,386.51 L858.79,386.75 L860.23,386.97 L861.68,387.18 L863.12,387.39 L864.56,387.58 L866.01,387.77 L867.45,387.96 L868.89,388.14 L870.34,388.32 L871.78,388.51 L873.23,388.68 L874.67,388.86 L876.11,389.04 L877.56,389.21 L879.00,389.38 L880.45,389.54 L881.89,389.70 L883.33,389.85 L884.78,390.00 L886.22,390.13 L887.67,390.26 L889.11,390.38 L890.55,390.50 L892.00,390.60 L893.44,390.70 L894.88,390.78 L896.33,390.87 L897.77,390.94 L899.22,391.01 L900.66,391.07 L902.10,391.13 L903.55,391.18 L904.99,391.23 L906.44,391.27 L907.88,391.31 L909.32,391.35 L910.77,391.38 L912.21,391.40 L913.66,391.43 L915.10,391.44 L916.54,391.46 L917.99,391.47 L919.43,391.48 L920.88,391.48 L922.32,391.49 L923.76,391.48 L925.21,391.48 L926.65,391.48 L928.09,391.47 L929.54,391.46 L930.98,391.45 L932.43,391.44 L933.87,391.43 L935.31,391.42 L936.76,391.40 L938.20,391.38 L939.65,391.36 L941.09,391.34 L942.53,391.32 L943.98,391.29 L945.42,391.26 L946.87,391.23 L948.31,391.19 L949.75,391.15 L951.20,391.10 L952.64,391.05 L954.08,391.00 L955.53,390.95 L956.97,390.89 L958.42,390.83 L959.86,390.77 L961.30,390.70 L962.75,390.63 L964.19,390.57 L965.64,390.50 L967.08,390.43 L968.52,390.36 L969.97,390.29 L971.41,390.22 L972.86,390.16 L974.30,390.09 L975.74,390.02 L977.19,389.95 L978.63,389.88 L980.07,389.82 L981.52,389.75 L982.96,389.68 L984.41,389.61 L985.85,389.54 L987.29,389.46 L988.74,389.39 L990.18,389.31 L991.63,389.23 L993.07,389.14 L994.51,389.06 L995.96,388.96 L997.40,388.87 L998.84,388.76 L1000.29,388.66 L1001.73,388.55 L1003.18,388.43 L1004.62,388.30 L1006.06,388.18 L1007.51,388.04 L1008.95,387.91 L1010.40,387.76 L1011.84,387.62 L1013.28,387.47 L1014.73,387.32 L1016.17,387.16 L1017.62,387.01 L1019.06,386.85 L1020.50,386.69 L1021.95,386.53 L1023.39,386.37 L1024.84,386.22 L1026.28,386.07 L1027.72,385.92 L1029.17,385.77 L1030.61,385.64 L1032.05,385.51 L1033.50,385.38 L1034.94,385.27 L1036.39,385.16 L1037.83,385.06 L1039.27,384.97 L1040.72,384.89 L1042.16,384.81 L1043.61,384.74 L1045.05,384.67 L1046.49,384.61 L1047.94,384.55 L1049.38,384.50 L1050.82,384.44 L1052.27,384.39 L1053.71,384.34 L1055.16,384.29 L1056.60,384.23 L1058.04,384.18 L1059.49,384.13 L1060.93,384.08 L1062.38,384.03 L1063.82,383.98 L1065.26,383.94 L1066.71,383.89 L1068.15,383.84 L1069.60,383.79 L1071.04,383.74 L1072.48,383.70 L1073.93,383.65 L1075.37,383.60 L1076.82,383.56 L1078.26,383.51 L1079.70,383.46 L1081.15,383.42 L1082.59,383.37 L1084.03,383.33 L1085.48,383.28 L1086.92,383.24 L1088.37,383.20 L1089.81,383.16 L1091.25,383.12 L1092.70,383.08 L1094.14,383.04 L1095.59,383.01 L1097.03,382.97 L1098.47,382.94 L1099.92,382.91 L1101.36,382.88 L1102.80,382.86 L1104.25,382.83 L1105.69,382.81 L1107.14,382.79 L1108.58,382.77 L1110.02,382.76 L1111.47,382.74 L1112.91,382.73 L1114.36,382.71 L1115.80,382.70" stroke="#26828e"/>
<path d="M596.00,245.89 L601.78,232.32 L607.55,213.76 L613.33,193.33 L619.10,174.31 L624.88,157.81 L630.65,146.49 L636.43,147.64 L642.20,160.98 L647.98,182.47 L653.76,212.76 L655.20,219.41 L656.64,225.40 L658.09,230.93 L659.53,236.21 L660.98,241.38 L662.42,246.43 L663.86,251.27 L665.31,255.82 L666.75,260.04 L668.19,263.93 L669.64,267.55 L671.08,270.93 L672.53,274.12 L673.97,277.13 L675.41,279.98 L676.86,282.68 L678.30,285.27 L679.75,287.75 L681.19,290.15 L682.63,292.51 L684.08,294.82 L685.52,297.11 L686.97,299.35 L688.41,301.54 L689.85,303.68 L691.30,305.76 L692.74,307.79 L694.18,309.78 L695.63,311.74 L697.07,313.66 L698.52,315.55 L699.96,317.43 L701.40,319.29 L702.85,321.15 L704.29,323.01 L705.74,324.89 L707.18,326.77 L708.62,328.65 L710.07,330.49 L711.51,332.26 L712.95,333.95 L714.40,335.56 L715.84,337.11 L717.29,338.62 L718.73,340.09 L720.17,341.52 L721.62,342.92 L723.06,344.27 L724.51,345.58 L725.95,346.83 L727.39,348.00 L728.84,349.10 L730.28,350.10 L731.73,351.03 L733.17,351.90 L734.61,352.73 L736.06,353.53 L737.50,354.31 L738.94,355.05 L740.39,355.74 L741.83,356.37 L743.28,356.95 L744.72,357.47 L746.16,357.94 L747.61,358.36 L749.05,358.75 L750.50,359.10 L751.94,359.45 L753.38,359.79 L754.83,360.11 L756.27,360.40 L757.72,360.64 L759.16,360.83 L760.60,360.96 L762.05,361.04 L763.49,361.08 L764.93,361.09 L766.38,361.07 L767.82,361.03 L769.27,360.99 L770.71,360.93 L772.15,360.88 L773.60,360.82 L775.04,360.77 L776.49,360.71 L777.93,360.64 L779.37,360.53 L780.82,360.38 L782.26,360.16 L783.71,359.88 L785.15,359.55 L786.59,359.19 L788.04,358.80 L789.48,358.39 L790.92,357.98 L792.37,357.58 L793.81,357.18 L795.26,356.78 L796.70,356.36 L798.14,355.92 L799.59,355.44 L801.03,354.94 L802.48,354.45 L803.92,353.97 L805.36,353.54 L806.81,353.14 L808.25,352.80 L809.70,352.49 L811.14,352.23 L812.58,352.01 L814.03,351.81 L815.47,351.62 L816.91,351.45 L818.36,351.30 L819.80,351.19 L821.25,351.13 L822.69,351.14 L824.13,351.23 L825.58,351.40 L827.02,351.65 L828.47,351.99 L829.91,352.39 L831.35,352.84 L832.80,353.31 L834.24,353.77 L835.69,354.23 L837.13,354.69 L838.57,355.13 L840.02,355.56 L841.46,355.98 L842.90,356.39 L844.35,356.78 L845.79,357.15 L847.24,357.51 L848.68,357.85 L850.12,358.16 L851.57,358.46 L853.01,358.73 L854.46,358.98 L855.90,359.22 L857.34,359.43 L858.79,359.64 L860.23,359.83 L861.68,360.01 L863.12,360.19 L864.56,360.36 L866.01,360.52 L867.45,360.69 L868.89,360.85 L870.34,361.02 L871.78,361.18 L873.23,361.35 L874.67,361.51 L876.11,361.67 L877.56,361.83 L879.00,361.99 L880.45,362.15 L881.89,362.30 L883.33,362.44 L884.78,362.58 L886.22,362.71 L887.67,362.83 L889.11,362.94 L890.55,363.05 L892.00,363.15 L893.44,363.24 L894.88,363.33 L896.33,363.40 L897.77,363.47 L899.22,363.54 L900.66,363.59 L902.10,363.64 L903.55,363.69 L904.99,363.73 L906.44,363.77 L907.88,363.80 L909.32,363.83 L910.77,363.85 L912.21,363.87 L913.66,363.88 L915.10,363.89 L916.54,363.90 L917.99,363.90 L919.43,363.90 L920.88,363.90 L922.32,363.89 L923.76,363.88 L925.21,363.87 L926.65,363.86 L928.09,363.85 L929.54,363.83 L930.98,363.82 L932.43,363.80 L933.87,363.78 L935.31,363.76 L936.76,363.74 L938.20,363.72 L939.65,363.70 L941.09,363.67 L942.53,363.64 L943.98,363.61 L945.42,363.58 L946.87,363.54 L948.31,363.50 L949.75,363.46 L951.20,363.41 L952.64,363.36 L954.08,363.31 L955.53,363.25 L956.97,363.19 L958.42,363.13 L959.86,363.06 L961.30,362.99 L962.75,362.93 L964.19,362.86 L965.64,362.79 L967.08,362.72 L968.52,362.65 L969.97,362.58 L971.41,362.51 L972.86,362.44 L974.30,362.37 L975.74,362.30 L977.19,362.23 L978.63,362.16 L980.07,362.09 L981.52,362.02 L982.96,361.96 L984.41,361.88 L985.85,361.81 L987.29,361.74 L988.74,361.66 L990.18,361.59 L991.63,361.51 L993.07,361.42 L994.51,361.34 L995.96,361.24 L997.40,361.15 L998.84,361.05 L1000.29,360.94 L1001.73,360.83 L1003.18,360.71 L1004.62,360.59 L1006.06,360.47 L1007.51,360.33 L1008.95,360.20 L1010.40,360.06 L1011.84,359.91 L1013.28,359.77 L1014.73,359.62 L1016.17,359.46 L1017.62,359.31 L1019.06,359.15 L1020.50,358.99 L1021.95,358.84 L1023.39,358.68 L1024.84,358.53 L1026.28,358.38 L1027.72,358.23 L1029.17,358.09 L1030.61,357.95 L1032.05,357.82 L1033.50,357.70 L1034.94,357.59 L1036.39,357.49 L1037.83,357.39 L1039.27,357.30 L1040.72,357.22 L1042.16,357.15 L1043.61,357.09 L1045.05,357.03 L1046.49,356.97 L1047.94,356.92 L1049.38,356.88 L1050.82,356.83 L1052.27,356.79 L1053.71,356.75 L1055.16,356.71 L1056.60,356.67 L1058.04,356.63 L1059.49,356.59 L1060.93,356.55 L1062.38,356.51 L1063.82,356.48 L1065.26,356.44 L1066.71,356.40 L1068.15,356.36 L1069.60,356.33 L1071.04,356.29 L1072.48,356.26 L1073.93,356.22 L1075.37,356.18 L1076.82,356.15 L1078.26,356.11 L1079.70,356.08 L1081.15,356.04 L1082.59,356.01 L1084.03,355.98 L1085.48,355.94 L1086.92,355.91 L1088.37,355.88 L1089.81,355.85 L1091.25,355.82 L1092.70,355.79 L1094.14,355.76 L1095.59,355.73 L1097.03,355.71 L1098.47,355.68 L1099.92,355.66 L1101.36,355.64 L1102.80,355.62 L1104.25,355.60 L1105.69,355.58 L1107.14,355.57 L1108.58,355.56 L1110.02,355.54 L1111.47,355.53 L1112.91,355.52 L1114.36,355.51 L1115.80,355.50" stroke="#31688e"/>
<path d="M596.00,213.64 L601.78,199.75 L607.55,180.50 L613.33,159.02 L619.10,138.94 L624.88,121.58 L630.65,109.37 L636.43,109.91 L642.20,122.86 L647.98,145.22 L653.76,177.08 L655.20,184.01 L656.64,190.22 L658.09,195.95 L659.53,201.44 L660.98,206.87 L662.42,212.21 L663.86,217.35 L665.31,222.21 L666.75,226.72 L668.19,230.88 L669.64,234.76 L671.08,238.39 L672.53,241.81 L673.97,245.05 L675.41,248.13 L676.86,251.09 L678.30,253.93 L679.75,256.69 L681.19,259.38 L682.63,262.02 L684.08,264.63 L685.52,267.20 L686.97,269.73 L688.41,272.21 L689.85,274.64 L691.30,277.00 L692.74,279.31 L694.18,281.56 L695.63,283.76 L697.07,285.91 L698.52,288.01 L699.96,290.08 L701.40,292.11 L702.85,294.12 L704.29,296.10 L705.74,298.07 L707.18,300.02 L708.62,301.93 L710.07,303.79 L711.51,305.57 L712.95,307.25 L714.40,308.85 L715.84,310.37 L717.29,311.84 L718.73,313.27 L720.17,314.66 L721.62,315.99 L723.06,317.28 L724.51,318.52 L725.95,319.70 L727.39,320.81 L728.84,321.83 L730.28,322.77 L731.73,323.64 L733.17,324.45 L734.61,325.22 L736.06,325.96 L737.50,326.67 L738.94,327.34 L740.39,327.97 L741.83,328.55 L743.28,329.09 L744.72,329.57 L746.16,330.02 L747.61,330.42 L749.05,330.80 L750.50,331.15 L751.94,331.49 L753.38,331.83 L754.83,332.15 L756.27,332.44 L757.72,332.68 L759.16,332.87 L760.60,333.00 L762.05,333.08 L763.49,333.12 L764.93,333.13 L766.38,333.11 L767.82,333.08 L769.27,333.03 L770.71,332.98 L772.15,332.92 L773.60,332.86 L775.04,332.81 L776.49,332.75 L777.93,332.68 L779.37,332.57 L780.82,332.41 L782.26,332.18 L783.71,331.88 L785.15,331.54 L786.59,331.16 L788.04,330.75 L789.48,330.32 L790.92,329.89 L792.37,329.46 L793.81,329.04 L795.26,328.62 L796.70,328.18 L798.14,327.72 L799.59,327.22 L801.03,326.70 L802.48,326.18 L803.92,325.69 L805.36,325.23 L806.81,324.82 L808.25,324.45 L809.70,324.13 L811.14,323.85 L812.58,323.61 L814.03,323.39 L815.47,323.19 L816.91,323.00 L818.36,322.83 L819.80,322.70 L821.25,322.63 L822.69,322.63 L824.13,322.70 L825.58,322.86 L827.02,323.10 L828.47,323.44 L829.91,323.84 L831.35,324.30 L832.80,324.77 L834.24,325.25 L835.69,325.72 L837.13,326.19 L838.57,326.65 L840.02,327.10 L841.46,327.53 L842.90,327.96 L844.35,328.37 L845.79,328.76 L847.24,329.14 L848.68,329.49 L850.12,329.83 L851.57,330.14 L853.01,330.43 L854.46,330.70 L855.90,330.95 L857.34,331.19 L858.79,331.41 L860.23,331.61 L861.68,331.81 L863.12,332.00 L864.56,332.18 L866.01,332.36 L867.45,332.53 L868.89,332.71 L870.34,332.88 L871.78,333.05 L873.23,333.23 L874.67,333.40 L876.11,333.57 L877.56,333.74 L879.00,333.90 L880.45,334.06 L881.89,334.22 L883.33,334.37 L884.78,334.51 L886.22,334.64 L887.67,334.77 L889.11,334.88 L890.55,334.99 L892.00,335.09 L893.44,335.18 L894.88,335.27 L896.33,335.34 L897.77,335.41 L899.22,335.47 L900.66,335.53 L902.10,335.58 L903.55,335.62 L904.99,335.66 L906.44,335.69 L907.88,335.72 L909.32,335.74 L910.77,335.76 L912.21,335.78 L913.66,335.79 L915.10,335.79 L916.54,335.79 L917.99,335.79 L919.43,335.79 L920.88,335.78 L922.32,335.77 L923.76,335.76 L925.21,335.74 L926.65,335.73 L928.09,335.71 L929.54,335.69 L930.98,335.67 L932.43,335.65 L933.87,335.62 L935.31,335.60 L936.76,335.57 L938.20,335.54 L939.65,335.51 L941.09,335.48 L942.53,335.45 L943.98,335.41 L945.42,335.37 L946.87,335.33 L948.31,335.28 L949.75,335.23 L951.20,335.17 L952.64,335.11 L954.08,335.05 L955.53,334.99 L956.97,334.92 L958.42,334.85 L959.86,334.78 L961.30,334.70 L962.75,334.62 L964.19,334.55 L965.64,334.47 L967.08,334.39 L968.52,334.31 L969.97,334.24 L971.41,334.16 L972.86,334.08 L974.30,334.01 L975.74,333.93 L977.19,333.86 L978.63,333.78 L980.07,333.71 L981.52,333.64 L982.96,333.56 L984.41,333.49 L985.85,333.41 L987.29,333.34 L988.74,333.26 L990.18,333.17 L991.63,333.09 L993.07,333.00 L994.51,332.91 L995.96,332.81 L997.40,332.71 L998.84,332.61 L1000.29,332.49 L1001.73,332.38 L1003.18,332.26 L1004.62,332.13 L1006.06,332.00 L1007.51,331.86 L1008.95,331.72 L1010.40,331.58 L1011.84,331.43 L1013.28,331.29 L1014.73,331.13 L1016.17,330.98 L1017.62,330.83 L1019.06,330.68 L1020.50,330.52 L1021.95,330.37 L1023.39,330.22 L1024.84,330.07 L1026.28,329.93 L1027.72,329.79 L1029.17,329.66 L1030.61,329.53 L1032.05,329.41 L1033.50,329.29 L1034.94,329.19 L1036.39,329.09 L1037.83,329.01 L1039.27,328.93 L1040.72,328.86 L1042.16,328.80 L1043.61,328.74 L1045.05,328.69 L1046.49,328.65 L1047.94,328.61 L1049.38,328.58 L1050.82,328.55 L1052.27,328.52 L1053.71,328.49 L1055.16,328.47 L1056.60,328.45 L1058.04,328.42 L1059.49,328.40 L1060.93,328.38 L1062.38,328.35 L1063.82,328.33 L1065.26,328.31 L1066.71,328.28 L1068.15,328.26 L1069.60,328.24 L1071.04,328.21 L1072.48,328.19 L1073.93,328.16 L1075.37,328.14 L1076.82,328.11 L1078.26,328.09 L1079.70,328.06 L1081.15,328.04 L1082.59,328.01 L1084.03,327.98 L1085.48,327.96 L1086.92,327.93 L1088.37,327.91 L1089.81,327.88 L1091.25,327.86 L1092.70,327.84 L1094.14,327.81 L1095.59,327.79 L1097.03,327.77 L1098.47,327.75 L1099.92,327.73 L1101.36,327.72 L1102.80,327.70 L1104.25,327.68 L1105.69,327.67 L1107.14,327.66 L1108.58,327.65 L1110.02,327.64 L1111.47,327.63 L1112.91,327.62 L1114.36,327.61 L1115.80,327.60" stroke="#3e4989"/>
<path d="M596.00,182.70 L601.78,167.51 L607.55,147.65 L613.33,125.27 L619.10,104.60 L624.88,87.46 L630.65,75.00 L636.43,75.11 L642.20,87.78 L647.98,110.77 L653.76,143.73 L655.20,150.86 L656.64,157.22 L658.09,163.09 L659.53,168.73 L660.98,174.35 L662.42,179.89 L663.86,185.25 L665.31,190.32 L666.75,195.03 L668.19,199.38 L669.64,203.44 L671.08,207.24 L672.53,210.83 L673.97,214.23 L675.41,217.48 L676.86,220.61 L678.30,223.64 L679.75,226.59 L681.19,229.47 L682.63,232.32 L684.08,235.13 L685.52,237.91 L686.97,240.65 L688.41,243.33 L689.85,245.96 L691.30,248.52 L692.74,251.03 L694.18,253.46 L695.63,255.83 L697.07,258.14 L698.52,260.39 L699.96,262.59 L701.40,264.74 L702.85,266.85 L704.29,268.92 L705.74,270.96 L707.18,272.95 L708.62,274.89 L710.07,276.76 L711.51,278.54 L712.95,280.21 L714.40,281.80 L715.84,283.31 L717.29,284.76 L718.73,286.16 L720.17,287.50 L721.62,288.80 L723.06,290.05 L724.51,291.24 L725.95,292.37 L727.39,293.42 L728.84,294.40 L730.28,295.30 L731.73,296.12 L733.17,296.89 L734.61,297.61 L736.06,298.31 L737.50,298.97 L738.94,299.60 L740.39,300.19 L741.83,300.74 L743.28,301.24 L744.72,301.70 L746.16,302.13 L747.61,302.52 L749.05,302.88 L750.50,303.23 L751.94,303.58 L753.38,303.91 L754.83,304.23 L756.27,304.52 L757.72,304.76 L759.16,304.95 L760.60,305.08 L762.05,305.16 L763.49,305.20 L764.93,305.21 L766.38,305.19 L767.82,305.16 L769.27,305.11 L770.71,305.06 L772.15,305.00 L773.60,304.94 L775.04,304.89 L776.49,304.83 L777.93,304.76 L779.37,304.65 L780.82,304.48 L782.26,304.25 L783.71,303.94 L785.15,303.58 L786.59,303.19 L788.04,302.76 L789.48,302.32 L790.92,301.87 L792.37,301.42 L793.81,300.99 L795.26,300.56 L796.70,300.11 L798.14,299.63 L799.59,299.12 L801.03,298.58 L802.48,298.05 L803.92,297.54 L805.36,297.07 L806.81,296.64 L808.25,296.26 L809.70,295.93 L811.14,295.64 L812.58,295.38 L814.03,295.15 L815.47,294.93 L816.91,294.73 L818.36,294.56 L819.80,294.42 L821.25,294.33 L822.69,294.32 L824.13,294.38 L825.58,294.53 L827.02,294.77 L828.47,295.10 L829.91,295.51 L831.35,295.96 L832.80,296.42 L834.24,296.87 L835.69,297.31 L837.13,297.73 L838.57,298.13 L840.02,298.51 L841.46,298.87 L842.90,299.21 L844.35,299.54 L845.79,299.84 L847.24,300.13 L848.68,300.40 L850.12,300.65 L851.57,300.88 L853.01,301.10 L854.46,301.30 L855.90,301.48 L857.34,301.66 L858.79,301.83 L860.23,301.99 L861.68,302.15 L863.12,302.32 L864.56,302.48 L866.01,302.65 L867.45,302.82 L868.89,303.00 L870.34,303.18 L871.78,303.37 L873.23,303.55 L874.67,303.74 L876.11,303.93 L877.56,304.12 L879.00,304.31 L880.45,304.49 L881.89,304.66 L883.33,304.83 L884.78,304.99 L886.22,305.14 L887.67,305.28 L889.11,305.41 L890.55,305.54 L892.00,305.65 L893.44,305.75 L894.88,305.85 L896.33,305.93 L897.77,306.01 L899.22,306.08 L900.66,306.15 L902.10,306.21 L903.55,306.26 L904.99,306.31 L906.44,306.36 L907.88,306.40 L909.32,306.43 L910.77,306.46 L912.21,306.49 L913.66,306.52 L915.10,306.54 L916.54,306.55 L917.99,306.56 L919.43,306.57 L920.88,306.58 L922.32,306.58 L923.76,306.58 L925.21,306.58 L926.65,306.57 L928.09,306.56 L929.54,306.56 L930.98,306.54 L932.43,306.53 L933.87,306.52 L935.31,306.50 L936.76,306.49 L938.20,306.47 L939.65,306.44 L941.09,306.42 L942.53,306.40 L943.98,306.37 L945.42,306.34 L946.87,306.30 L948.31,306.27 L949.75,306.23 L951.20,306.18 L952.64,306.13 L954.08,306.08 L955.53,306.03 L956.97,305.97 L958.42,305.92 L959.86,305.86 L961.30,305.79 L962.75,305.73 L964.19,305.66 L965.64,305.60 L967.08,305.53 L968.52,305.47 L969.97,305.40 L971.41,305.33 L972.86,305.27 L974.30,305.20 L975.74,305.13 L977.19,305.07 L978.63,305.00 L980.07,304.94 L981.52,304.87 L982.96,304.80 L984.41,304.73 L985.85,304.66 L987.29,304.58 L988.74,304.51 L990.18,304.43 L991.63,304.35 L993.07,304.27 L994.51,304.18 L995.96,304.09 L997.40,303.99 L998.84,303.89 L1000.29,303.78 L1001.73,303.67 L1003.18,303.55 L1004.62,303.43 L1006.06,303.31 L1007.51,303.18 L1008.95,303.04 L1010.40,302.90 L1011.84,302.76 L1013.28,302.62 L1014.73,302.47 L1016.17,302.32 L1017.62,302.18 L1019.06,302.03 L1020.50,301.88 L1021.95,301.73 L1023.39,301.58 L1024.84,301.43 L1026.28,301.29 L1027.72,301.15 L1029.17,301.02 L1030.61,300.90 L1032.05,300.78 L1033.50,300.66 L1034.94,300.56 L1036.39,300.47 L1037.83,300.38 L1039.27,300.30 L1040.72,300.23 L1042.16,300.17 L1043.61,300.12 L1045.05,300.07 L1046.49,300.03 L1047.94,299.99 L1049.38,299.96 L1050.82,299.93 L1052.27,299.91 L1053.71,299.88 L1055.16,299.86 L1056.60,299.84 L1058.04,299.81 L1059.49,299.79 L1060.93,299.77 L1062.38,299.75 L1063.82,299.73 L1065.26,299.71 L1066.71,299.68 L1068.15,299.66 L1069.60,299.64 L1071.04,299.62 L1072.48,299.59 L1073.93,299.57 L1075.37,299.54 L1076.82,299.52 L1078.26,299.49 L1079.70,299.47 L1081.15,299.44 L1082.59,299.42 L1084.03,299.39 L1085.48,299.36 L1086.92,299.34 L1088.37,299.31 L1089.81,299.29 L1091.25,299.26 L1092.70,299.24 L1094.14,299.22 L1095.59,299.20 L1097.03,299.18 L1098.47,299.16 L1099.92,299.14 L1101.36,299.12 L1102.80,299.10 L1104.25,299.09 L1105.69,299.07 L1107.14,299.06 L1108.58,299.05 L1110.02,299.04 L1111.47,299.03 L1112.91,299.02 L1114.36,299.01 L1115.80,299.00" stroke="#482878"/>
<path d="M596.00,154.00 L601.78,136.94 L607.55,116.72 L613.33,93.89 L619.10,73.27 L624.88,57.39 L630.65,45.40 L636.43,45.40 L642.20,58.00 L647.98,81.14 L653.76,114.41 L655.20,121.58 L656.64,127.99 L658.09,133.89 L659.53,139.57 L660.98,145.23 L662.42,150.83 L663.86,156.24 L665.31,161.37 L666.75,166.13 L668.19,170.54 L669.64,174.65 L671.08,178.49 L672.53,182.12 L673.97,185.57 L675.41,188.86 L676.86,192.03 L678.30,195.11 L679.75,198.11 L681.19,201.05 L682.63,203.95 L684.08,206.82 L685.52,209.65 L686.97,212.44 L688.41,215.18 L689.85,217.86 L691.30,220.48 L692.74,223.03 L694.18,225.51 L695.63,227.93 L697.07,230.28 L698.52,232.57 L699.96,234.80 L701.40,236.99 L702.85,239.13 L704.29,241.22 L705.74,243.27 L707.18,245.27 L708.62,247.22 L710.07,249.09 L711.51,250.87 L712.95,252.55 L714.40,254.13 L715.84,255.64 L717.29,257.08 L718.73,258.47 L720.17,259.81 L721.62,261.09 L723.06,262.33 L724.51,263.51 L725.95,264.62 L727.39,265.67 L728.84,266.63 L730.28,267.52 L731.73,268.33 L733.17,269.08 L734.61,269.80 L736.06,270.48 L737.50,271.13 L738.94,271.75 L740.39,272.33 L741.83,272.86 L743.28,273.36 L744.72,273.81 L746.16,274.23 L747.61,274.62 L749.05,274.99 L750.50,275.34 L751.94,275.68 L753.38,276.01 L754.83,276.33 L756.27,276.62 L757.72,276.86 L759.16,277.05 L760.60,277.17 L762.05,277.26 L763.49,277.30 L764.93,277.31 L766.38,277.29 L767.82,277.26 L769.27,277.21 L770.71,277.16 L772.15,277.10 L773.60,277.04 L775.04,276.99 L776.49,276.93 L777.93,276.86 L779.37,276.75 L780.82,276.58 L782.26,276.34 L783.71,276.03 L785.15,275.67 L786.59,275.27 L788.04,274.84 L789.48,274.40 L790.92,273.94 L792.37,273.49 L793.81,273.06 L795.26,272.62 L796.70,272.17 L798.14,271.69 L799.59,271.17 L801.03,270.63 L802.48,270.10 L803.92,269.58 L805.36,269.11 L806.81,268.68 L808.25,268.29 L809.70,267.95 L811.14,267.66 L812.58,267.40 L814.03,267.16 L815.47,266.95 L816.91,266.74 L818.36,266.56 L819.80,266.42 L821.25,266.33 L822.69,266.31 L824.13,266.37 L825.58,266.52 L827.02,266.76 L828.47,267.09 L829.91,267.50 L831.35,267.96 L832.80,268.43 L834.24,268.91 L835.69,269.38 L837.13,269.84 L838.57,270.29 L840.02,270.73 L841.46,271.15 L842.90,271.56 L844.35,271.95 L845.79,272.33 L847.24,272.69 L848.68,273.03 L850.12,273.35 L851.57,273.65 L853.01,273.92 L854.46,274.18 L855.90,274.42 L857.34,274.64 L858.79,274.85 L860.23,275.04 L861.68,275.23 L863.12,275.41 L864.56,275.59 L866.01,275.76 L867.45,275.93 L868.89,276.11 L870.34,276.28 L871.78,276.45 L873.23,276.62 L874.67,276.79 L876.11,276.96 L877.56,277.13 L879.00,277.30 L880.45,277.46 L881.89,277.61 L883.33,277.76 L884.78,277.90 L886.22,278.04 L887.67,278.16 L889.11,278.28 L890.55,278.39 L892.00,278.49 L893.44,278.58 L894.88,278.66 L896.33,278.73 L897.77,278.80 L899.22,278.86 L900.66,278.91 L902.10,278.96 L903.55,279.00 L904.99,279.04 L906.44,279.06 L907.88,279.09 L909.32,279.11 L910.77,279.12 L912.21,279.13 L913.66,279.14 L915.10,279.14 L916.54,279.14 L917.99,279.13 L919.43,279.12 L920.88,279.11 L922.32,279.09 L923.76,279.08 L925.21,279.06 L926.65,279.03 L928.09,279.01 L929.54,278.98 L930.98,278.96 L932.43,278.93 L933.87,278.90 L935.31,278.86 L936.76,278.83 L938.20,278.80 L939.65,278.76 L941.09,278.72 L942.53,278.68 L943.98,278.63 L945.42,278.59 L946.87,278.54 L948.31,278.48 L949.75,278.43 L951.20,278.36 L952.64,278.30 L954.08,278.23 L955.53,278.16 L956.97,278.08 L958.42,278.01 L959.86,277.93 L961.30,277.85 L962.75,277.76 L964.19,277.68 L965.64,277.60 L967.08,277.51 L968.52,277.43 L969.97,277.35 L971.41,277.27 L972.86,277.19 L974.30,277.11 L975.74,277.03 L977.19,276.95 L978.63,276.87 L980.07,276.80 L981.52,276.72 L982.96,276.64 L984.41,276.57 L985.85,276.49 L987.29,276.41 L988.74,276.33 L990.18,276.24 L991.63,276.15 L993.07,276.06 L994.51,275.97 L995.96,275.87 L997.40,275.77 L998.84,275.66 L1000.29,275.54 L1001.73,275.42 L1003.18,275.30 L1004.62,275.17 L1006.06,275.03 L1007.51,274.89 L1008.95,274.75 L1010.40,274.60 L1011.84,274.45 L1013.28,274.30 L1014.73,274.14 L1016.17,273.98 L1017.62,273.83 L1019.06,273.67 L1020.50,273.51 L1021.95,273.36 L1023.39,273.20 L1024.84,273.05 L1026.28,272.90 L1027.72,272.76 L1029.17,272.63 L1030.61,272.50 L1032.05,272.38 L1033.50,272.27 L1034.94,272.16 L1036.39,272.07 L1037.83,271.99 L1039.27,271.92 L1040.72,271.86 L1042.16,271.80 L1043.61,271.76 L1045.05,271.72 L1046.49,271.69 L1047.94,271.67 L1049.38,271.65 L1050.82,271.63 L1052.27,271.62 L1053.71,271.61 L1055.16,271.60 L1056.60,271.59 L1058.04,271.58 L1059.49,271.57 L1060.93,271.57 L1062.38,271.56 L1063.82,271.55 L1065.26,271.55 L1066.71,271.54 L1068.15,271.54 L1069.60,271.53 L1071.04,271.52 L1072.48,271.52 L1073.93,271.51 L1075.37,271.51 L1076.82,271.50 L1078.26,271.49 L1079.70,271.49 L1081.15,271.48 L1082.59,271.48 L1084.03,271.47 L1085.48,271.47 L1086.92,271.46 L1088.37,271.46 L1089.81,271.45 L1091.25,271.45 L1092.70,271.45 L1094.14,271.44 L1095.59,271.44 L1097.03,271.43 L1098.47,271.43 L1099.92,271.43 L1101.36,271.42 L1102.80,271.42 L1104.25,271.42 L1105.69,271.41 L1107.14,271.41 L1108.58,271.41 L1110.02,271.41 L1111.47,271.40 L1112.91,271.40 L1114.36,271.40 L1115.80,271.40" stroke="#46065a"/>
</g>
<line x1="631.45" y1="19.8" x2="635.1" y2="541.6" stroke="#1e4673" stroke-width="3.0" stroke-dasharray="12 9.22"/>
<line x1="704.4" y1="325" x2="702.1" y2="494.3" stroke="#6a9bd2" stroke-width="3.0" stroke-dasharray="23.6 9.4" stroke-dashoffset="21.3"/>
<line x1="831.7" y1="215.3" x2="831.4" y2="521" stroke="#bdd4ea" stroke-width="3.0" stroke-dasharray="24 9.5" stroke-dashoffset="19"/>
<g font-size="32.5" fill="#000" text-anchor="middle">
<text transform="translate(596.00,588) scale(1,1.025)">600</text>
<text transform="translate(711.51,588) scale(1,1.025)">800</text>
<text transform="translate(827.02,588) scale(1,1.025)">1000</text>
<text transform="translate(942.53,588) scale(1,1.025)">1200</text>
<text transform="translate(1058.04,588) scale(1,1.025)">1400</text>
</g>
<g font-size="32.5" fill="#000" text-anchor="end">
<text transform="translate(578,555.00) scale(1,1.025)">0</text>
<text transform="translate(578,404.20) scale(1,1.025)">2</text>
<text transform="translate(578,253.40) scale(1,1.025)">4</text>
<text transform="translate(578,102.60) scale(1,1.025)">6</text>
</g>
<text transform="translate(548,283) rotate(-90) scale(1,1.025)" font-size="32" text-anchor="middle">Absorption (%)</text>
<text transform="translate(856.3,643) scale(1,1.025)" font-size="32.3" text-anchor="middle">Wavenumber <tspan font-style="italic">ω</tspan> (cm<tspan font-size="22.5" dy="-12.5">-1</tspan><tspan dy="12.5">)</tspan></text>
<text transform="translate(649.50,61.30) scale(1,1.025)" font-size="35.2"><tspan font-style="italic">H</tspan><tspan font-size="21.8" dy="8.8">1</tspan><tspan dy="-8.8">-mode</tspan></text>
<text transform="translate(645.30,531.10) scale(1,1.025)" font-size="35.2"><tspan font-style="italic">H</tspan><tspan font-size="21.8" dy="8.8">2</tspan><tspan dy="-8.8">-mode</tspan></text>
<text transform="translate(874.60,245.30) scale(1,1.025)" font-size="35.2"><tspan font-style="italic">H</tspan><tspan font-size="21.8" dy="8.8">3</tspan><tspan dy="-8.8">-mode</tspan></text>
<text transform="translate(520.3,35.6) scale(1,1.025)" font-size="41.8" font-weight="bold" style="stroke-width:0.25px">(b)</text>
<rect x="1127" y="302" width="18" height="243.5" fill="url(#vir)"/>
<path d="M1127.4,302 V545.2 H1144.6 V302" fill="none" stroke="#444" stroke-width="1"/>
<text transform="translate(1158.00,328.00) scale(1,1.025)" font-size="32.5">90<tspan font-size="28.6" dy="-2.76">°</tspan></text>
<text transform="translate(1161.00,535.30) scale(1,1.025)" font-size="32.5">0<tspan font-size="28.6" dy="-2.76">°</tspan></text>
<text transform="translate(1164,435.5) scale(1,1.025)" font-size="32.5" font-style="italic">θ</text>
</g>
<g id="pc">
<clipPath id="clippc"><path d="M1397.60,272.20 L1397.60,49.90 A222.30,222.30 0 0 1 1619.90,272.20 L1619.90,272.20 Z"/></clipPath>
<path d="M1470.70,272.20 A73.10,73.10 0 0 0 1397.60,199.10" fill="none" stroke="#bcbcbc" stroke-width="1.15" stroke-dasharray="6.00 4.50"/>
<path d="M1543.80,272.20 A146.20,146.20 0 0 0 1397.60,126.00" fill="none" stroke="#bcbcbc" stroke-width="1.15" stroke-dasharray="6.00 4.50"/>
<g fill="none" stroke="#000" stroke-width="2.25">
<path d="M1507.25,272.20 A109.65,109.65 0 0 0 1397.60,162.55"/>
<path d="M1580.35,272.20 A182.75,182.75 0 0 0 1397.60,89.45"/>
<line x1="1429.25" y1="253.92" x2="1587.52" y2="162.55"/>
<line x1="1415.88" y1="240.55" x2="1507.25" y2="82.28"/>
<line x1="1604.11" y1="216.86" x2="1609.43" y2="215.44"/>
<line x1="1548.78" y1="121.02" x2="1552.67" y2="117.13"/>
<line x1="1452.94" y1="65.69" x2="1454.36" y2="60.37"/>
</g>
<g clip-path="url(#clippc)">
<polyline points="1573.04,272.20 1569.65,241.86 1562.46,212.20 1551.12,183.57 1533.39,158.25 1512.72,135.01 1487.51,116.47 1459.10,103.22 1428.89,94.75 1397.60,92.37" fill="none" stroke="#bcd3e9" stroke-width="2.80"/>
<circle cx="1573.04" cy="272.20" r="5.80" fill="#bcd3e9"/>
<circle cx="1569.65" cy="241.86" r="5.80" fill="#bcd3e9"/>
<circle cx="1562.46" cy="212.20" r="5.80" fill="#bcd3e9"/>
<circle cx="1551.12" cy="183.57" r="5.80" fill="#bcd3e9"/>
<circle cx="1533.39" cy="158.25" r="5.80" fill="#bcd3e9"/>
<circle cx="1512.72" cy="135.01" r="5.80" fill="#bcd3e9"/>
<circle cx="1487.51" cy="116.47" r="5.80" fill="#bcd3e9"/>
<circle cx="1459.10" cy="103.22" r="5.80" fill="#bcd3e9"/>
<circle cx="1428.89" cy="94.75" r="5.80" fill="#bcd3e9"/>
<circle cx="1397.60" cy="92.37" r="5.80" fill="#bcd3e9"/>
<polyline points="1499.94,272.20 1498.75,254.37 1494.46,236.95 1486.86,220.66 1476.00,206.42 1462.91,194.36 1448.22,184.52" fill="none" stroke="#6b9bd0" stroke-width="2.80"/>
<circle cx="1499.94" cy="272.20" r="5.80" fill="#6b9bd0"/>
<circle cx="1498.75" cy="254.37" r="5.80" fill="#6b9bd0"/>
<circle cx="1494.46" cy="236.95" r="5.80" fill="#6b9bd0"/>
<circle cx="1486.86" cy="220.66" r="5.80" fill="#6b9bd0"/>
<circle cx="1476.00" cy="206.42" r="5.80" fill="#6b9bd0"/>
<circle cx="1462.91" cy="194.36" r="5.80" fill="#6b9bd0"/>
<circle cx="1448.22" cy="184.52" r="5.80" fill="#6b9bd0"/>
<polyline points="1453.89,272.20 1453.39,262.36 1451.18,252.70 1447.30,243.51 1441.84,235.08 1434.96,227.68 1426.84,221.55 1417.73,216.90 1407.88,213.89 1397.60,212.99" fill="none" stroke="#24456e" stroke-width="2.80"/>
<circle cx="1453.89" cy="272.20" r="5.80" fill="#24456e"/>
<circle cx="1453.39" cy="262.36" r="5.80" fill="#24456e"/>
<circle cx="1451.18" cy="252.70" r="5.80" fill="#24456e"/>
<circle cx="1447.30" cy="243.51" r="5.80" fill="#24456e"/>
<circle cx="1441.84" cy="235.08" r="5.80" fill="#24456e"/>
<circle cx="1434.96" cy="227.68" r="5.80" fill="#24456e"/>
<circle cx="1426.84" cy="221.55" r="5.80" fill="#24456e"/>
<circle cx="1417.73" cy="216.90" r="5.80" fill="#24456e"/>
<circle cx="1407.88" cy="213.89" r="5.80" fill="#24456e"/>
<circle cx="1397.60" cy="212.99" r="5.80" fill="#24456e"/>
</g>
<g fill="none" stroke="#000" stroke-width="2.25">
<path d="M1397.60,235.65 L1397.60,52.90 A219.30,219.30 0 0 1 1616.90,272.20 L1434.15,272.20 A36.55,36.55 0 0 0 1397.60,235.65 Z" stroke-linejoin="miter"/>
</g>
</g>
<g stroke="#000" stroke-width="2.2" fill="none">
<line x1="1358.60" y1="51.95" x2="1358.60" y2="273.15"/>
<line x1="1353.10" y1="272.20" x2="1358.60" y2="272.20"/>
<line x1="1348.10" y1="235.65" x2="1358.60" y2="235.65"/>
<line x1="1353.10" y1="199.10" x2="1358.60" y2="199.10"/>
<line x1="1348.10" y1="162.55" x2="1358.60" y2="162.55"/>
<line x1="1353.10" y1="126.00" x2="1358.60" y2="126.00"/>
<line x1="1348.10" y1="89.45" x2="1358.60" y2="89.45"/>
<line x1="1353.10" y1="52.90" x2="1358.60" y2="52.90"/>
</g>
<g font-size="28.5" text-anchor="end">
<text transform="translate(1340.3,244.85) scale(1,1.025)">600</text>
<text transform="translate(1340.3,171.75) scale(1,1.025)">800</text>
<text transform="translate(1340.3,98.65) scale(1,1.025)">1000</text>
</g>
<text transform="translate(1265.4,150) rotate(-90) scale(1,1.025)" font-size="31.5" text-anchor="middle">Peak (cm<tspan font-size="22" dy="-12.2">-1</tspan><tspan dy="12.2">)</tspan></text>
<g font-size="28.5">
<text transform="translate(1375.00,35.00) scale(1,1.025)" font-size="28.5">90<tspan font-size="25.1" dy="-2.42">°</tspan></text>
<text transform="translate(1512.50,65.00) scale(1,1.025)" font-size="28.5">60<tspan font-size="25.1" dy="-2.42">°</tspan></text>
<text transform="translate(1596.00,150.00) scale(1,1.025)" font-size="28.5">30<tspan font-size="25.1" dy="-2.42">°</tspan></text>
<text transform="translate(1628.50,281.50) scale(1,1.025)" font-size="28.5">0<tspan font-size="25.1" dy="-2.42">°</tspan></text>
</g>
<text transform="translate(1238.3,35.6) scale(1,1.025)" font-size="41.8" font-weight="bold" style="stroke-width:0.25px">(c)</text>
<g id="pd">
<clipPath id="clippd"><path d="M1397.40,600.60 L1397.40,391.04 A209.56,209.56 0 0 1 1606.96,600.60 L1606.96,600.60 Z"/></clipPath>
<path d="M1552.32,600.60 A154.92,154.92 0 0 0 1397.40,445.68" fill="none" stroke="#bcbcbc" stroke-width="1.15" stroke-dasharray="5.67 4.25"/>
<g fill="none" stroke="#000" stroke-width="2.13">
<path d="M1500.68,600.60 A103.28,103.28 0 0 0 1397.40,497.32"/>
<line x1="1442.61" y1="574.50" x2="1576.29" y2="497.32"/>
<line x1="1423.50" y1="555.39" x2="1500.68" y2="421.71"/>
<line x1="1591.90" y1="548.48" x2="1596.92" y2="547.14"/>
<line x1="1539.78" y1="458.22" x2="1543.46" y2="454.54"/>
<line x1="1449.52" y1="406.10" x2="1450.86" y2="401.08"/>
</g>
<g clip-path="url(#clippd)">
<polyline points="1525.47,600.60 1524.54,578.18 1521.63,555.39 1514.79,532.82 1504.60,510.65 1490.18,490.03 1471.63,472.03 1449.33,457.93 1424.12,449.05 1397.40,446.71" fill="none" stroke="#2f5283" stroke-width="2.65"/>
<circle cx="1525.47" cy="600.60" r="5.48" fill="#2f5283"/>
<circle cx="1524.54" cy="578.18" r="5.48" fill="#2f5283"/>
<circle cx="1521.63" cy="555.39" r="5.48" fill="#2f5283"/>
<circle cx="1514.79" cy="532.82" r="5.48" fill="#2f5283"/>
<circle cx="1504.60" cy="510.65" r="5.48" fill="#2f5283"/>
<circle cx="1490.18" cy="490.03" r="5.48" fill="#2f5283"/>
<circle cx="1471.63" cy="472.03" r="5.48" fill="#2f5283"/>
<circle cx="1449.33" cy="457.93" r="5.48" fill="#2f5283"/>
<circle cx="1424.12" cy="449.05" r="5.48" fill="#2f5283"/>
<circle cx="1397.40" cy="446.71" r="5.48" fill="#2f5283"/>
<polyline points="1521.85,600.60 1519.45,579.08 1511.68,559.01 1499.14,541.86 1482.85,528.90 1465.45,519.51 1446.20,516.08" fill="none" stroke="#6b9bd0" stroke-width="2.65"/>
<circle cx="1521.85" cy="600.60" r="5.48" fill="#6b9bd0"/>
<circle cx="1519.45" cy="579.08" r="5.48" fill="#6b9bd0"/>
<circle cx="1511.68" cy="559.01" r="5.48" fill="#6b9bd0"/>
<circle cx="1499.14" cy="541.86" r="5.48" fill="#6b9bd0"/>
<circle cx="1482.85" cy="528.90" r="5.48" fill="#6b9bd0"/>
<circle cx="1465.45" cy="519.51" r="5.48" fill="#6b9bd0"/>
<circle cx="1446.20" cy="516.08" r="5.48" fill="#6b9bd0"/>
<polyline points="1535.02,600.60 1531.66,576.93 1522.35,555.12 1508.76,536.31 1491.75,521.43 1472.58,511.00 1453.04,504.23 1434.05,499.91 1415.42,498.38 1397.40,498.09" fill="none" stroke="#bcd3e9" stroke-width="2.65"/>
<circle cx="1535.02" cy="600.60" r="5.48" fill="#bcd3e9"/>
<circle cx="1531.66" cy="576.93" r="5.48" fill="#bcd3e9"/>
<circle cx="1522.35" cy="555.12" r="5.48" fill="#bcd3e9"/>
<circle cx="1508.76" cy="536.31" r="5.48" fill="#bcd3e9"/>
<circle cx="1491.75" cy="521.43" r="5.48" fill="#bcd3e9"/>
<circle cx="1472.58" cy="511.00" r="5.48" fill="#bcd3e9"/>
<circle cx="1453.04" cy="504.23" r="5.48" fill="#bcd3e9"/>
<circle cx="1434.05" cy="499.91" r="5.48" fill="#bcd3e9"/>
<circle cx="1415.42" cy="498.38" r="5.48" fill="#bcd3e9"/>
<circle cx="1397.40" cy="498.09" r="5.48" fill="#bcd3e9"/>
</g>
<g fill="none" stroke="#000" stroke-width="2.13">
<path d="M1397.40,548.40 L1397.40,394.04 A206.56,206.56 0 0 1 1603.96,600.60 L1449.60,600.60 A52.20,52.20 0 0 0 1397.40,548.40 Z" stroke-linejoin="miter"/>
</g>
</g>
<g stroke="#000" stroke-width="2.1" fill="none">
<line x1="1360.90" y1="393.09" x2="1360.90" y2="601.55"/>
<line x1="1350.90" y1="600.60" x2="1360.90" y2="600.60"/>
<line x1="1355.70" y1="548.96" x2="1360.90" y2="548.96"/>
<line x1="1350.90" y1="497.32" x2="1360.90" y2="497.32"/>
<line x1="1355.70" y1="445.68" x2="1360.90" y2="445.68"/>
<line x1="1350.90" y1="394.04" x2="1360.90" y2="394.04"/>
</g>
<g font-size="27" text-anchor="end">
<text transform="translate(1343.2,610.20) scale(1,1.025)">40</text>
<text transform="translate(1343.2,506.92) scale(1,1.025)">80</text>
<text transform="translate(1343.2,403.64) scale(1,1.025)">120</text>
</g>
<text transform="translate(1291.3,502.1) rotate(-90) scale(1,1.025)" font-size="29.9" text-anchor="middle">FWHM (cm<tspan font-size="20.7" dy="-11.5">-1</tspan><tspan dy="11.5">)</tspan></text>
<g font-size="28.5">
<text transform="translate(1377.80,377.00) scale(1,1.025)" font-size="27.0">90<tspan font-size="23.8" dy="-2.30">°</tspan></text>
<text transform="translate(1506.60,406.30) scale(1,1.025)" font-size="27.0">60<tspan font-size="23.8" dy="-2.30">°</tspan></text>
<text transform="translate(1586.50,485.30) scale(1,1.025)" font-size="27.0">30<tspan font-size="23.8" dy="-2.30">°</tspan></text>
<text transform="translate(1615.80,610.30) scale(1,1.025)" font-size="27.0">0<tspan font-size="23.8" dy="-2.30">°</tspan></text>
</g>
<text transform="translate(1238.3,342.1) scale(1,1.025)" font-size="41.8" font-weight="bold" style="stroke-width:0.25px">(d)</text>
</svg></body></html>
